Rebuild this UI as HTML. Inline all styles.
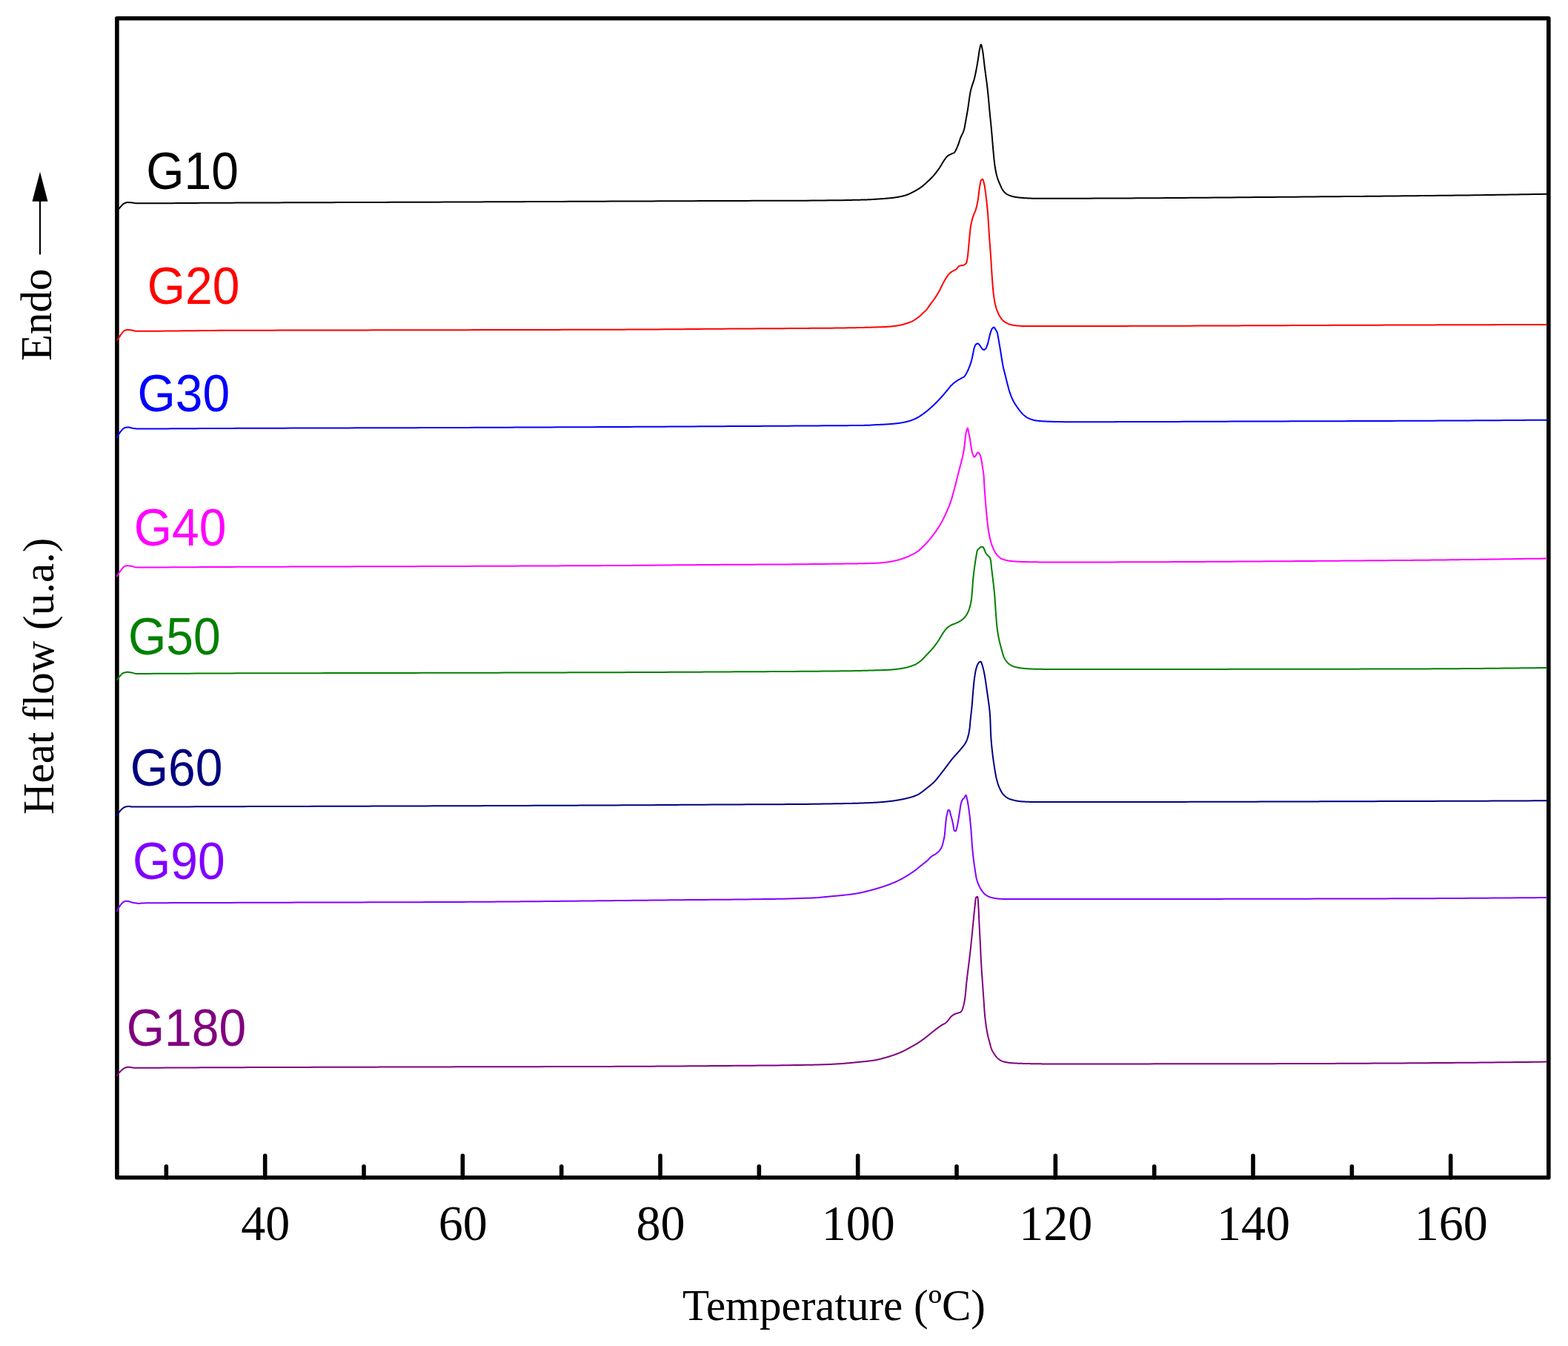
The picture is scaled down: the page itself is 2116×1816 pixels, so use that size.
<!DOCTYPE html><html><head><meta charset="utf-8"><title>DSC thermograms</title>
<style>html,body{margin:0;padding:0;background:#fff;overflow:hidden;width:2116px;height:1816px;}svg{display:block;}.serif{font-family:"Liberation Serif","Times New Roman",serif;}.sans{font-family:"Liberation Sans",Arial,sans-serif;}</style></head><body>
<svg width="2116" height="1816" viewBox="0 0 2116 1816">
<rect x="0" y="0" width="2116" height="1816" fill="#fff"/>
<rect x="157.90" y="24.80" width="1931.90" height="1564.00" fill="none" stroke="#000" stroke-width="5.60" stroke-linejoin="round"/>
<path d="M224.37 1588.80 V1573.80 M357.70 1588.80 V1559.20 M491.03 1588.80 V1573.80 M624.36 1588.80 V1559.20 M757.69 1588.80 V1573.80 M891.02 1588.80 V1559.20 M1024.35 1588.80 V1573.80 M1157.68 1588.80 V1559.20 M1291.01 1588.80 V1573.80 M1424.34 1588.80 V1559.20 M1557.67 1588.80 V1573.80 M1691.00 1588.80 V1559.20 M1824.33 1588.80 V1573.80 M1957.66 1588.80 V1559.20" stroke="#000" stroke-width="5.60" stroke-linecap="round" fill="none"/>
<path d="M158.00 284.50 L159.00 283.32 L160.00 282.15 L161.00 281.00 L162.00 279.82 L163.00 278.63 L164.00 277.50 L165.00 276.50 L166.00 275.59 L167.00 274.77 L168.00 274.20 L169.00 273.82 L170.00 273.49 L171.00 273.24 L172.00 273.11 L172.40 273.10 L173.00 273.11 L174.00 273.13 L175.00 273.19 L176.00 273.25 L177.00 273.32 L178.00 273.40 L179.00 273.51 L180.00 273.67 L181.00 273.85 L182.00 274.03 L183.00 274.18 L184.00 274.28 L184.70 274.30 L185.00 274.30 L186.00 274.30 L187.00 274.30 L188.00 274.30 L189.00 274.30 L190.00 274.30 L191.00 274.30 L192.00 274.30 L193.00 274.29 L194.00 274.29 L195.00 274.29 L196.00 274.29 L197.00 274.29 L198.00 274.28 L199.00 274.28 L200.00 274.28 L208.00 274.25 L216.00 274.22 L224.00 274.18 L232.00 274.13 L240.00 274.08 L248.00 274.03 L256.00 273.97 L264.00 273.91 L272.00 273.86 L280.00 273.81 L288.00 273.76 L296.00 273.72 L300.00 273.70 L304.00 273.68 L312.00 273.65 L320.00 273.61 L328.00 273.58 L336.00 273.55 L344.00 273.52 L352.00 273.49 L360.00 273.45 L368.00 273.42 L376.00 273.39 L384.00 273.37 L392.00 273.34 L400.00 273.31 L408.00 273.28 L416.00 273.25 L424.00 273.22 L432.00 273.20 L440.00 273.17 L448.00 273.14 L456.00 273.11 L464.00 273.09 L472.00 273.06 L480.00 273.03 L488.00 273.01 L496.00 272.98 L504.00 272.95 L512.00 272.92 L520.00 272.90 L528.00 272.87 L536.00 272.84 L544.00 272.81 L552.00 272.78 L560.00 272.75 L568.00 272.72 L576.00 272.69 L584.00 272.66 L592.00 272.63 L600.00 272.60 L608.00 272.57 L616.00 272.53 L624.00 272.50 L632.00 272.47 L640.00 272.43 L648.00 272.40 L656.00 272.36 L664.00 272.33 L672.00 272.29 L680.00 272.26 L688.00 272.22 L696.00 272.19 L704.00 272.15 L712.00 272.11 L720.00 272.08 L728.00 272.04 L736.00 272.00 L744.00 271.97 L752.00 271.93 L760.00 271.89 L768.00 271.86 L776.00 271.82 L784.00 271.78 L792.00 271.75 L800.00 271.71 L808.00 271.68 L816.00 271.64 L824.00 271.61 L832.00 271.58 L840.00 271.54 L848.00 271.51 L850.00 271.50 L856.00 271.48 L864.00 271.44 L872.00 271.41 L880.00 271.38 L888.00 271.34 L896.00 271.31 L904.00 271.28 L912.00 271.24 L920.00 271.21 L928.00 271.18 L936.00 271.14 L944.00 271.11 L952.00 271.08 L960.00 271.05 L968.00 271.02 L976.00 270.99 L984.00 270.97 L992.00 270.94 L1000.00 270.91 L1004.40 270.90 L1008.00 270.89 L1016.00 270.87 L1024.00 270.85 L1032.00 270.83 L1040.00 270.82 L1048.00 270.80 L1056.00 270.78 L1064.00 270.76 L1072.00 270.73 L1080.00 270.70 L1088.00 270.66 L1096.00 270.61 L1104.00 270.54 L1112.00 270.46 L1120.00 270.37 L1128.00 270.26 L1136.00 270.14 L1144.00 269.99 L1144.50 269.98 L1145.00 269.97 L1145.50 269.97 L1146.00 269.96 L1146.50 269.95 L1147.00 269.94 L1147.50 269.93 L1148.00 269.92 L1148.50 269.91 L1149.00 269.90 L1149.50 269.89 L1150.00 269.88 L1150.50 269.86 L1151.00 269.85 L1151.50 269.84 L1152.00 269.83 L1152.50 269.82 L1153.00 269.81 L1153.50 269.80 L1154.00 269.79 L1154.50 269.78 L1155.00 269.77 L1155.50 269.76 L1156.00 269.75 L1156.50 269.73 L1157.00 269.72 L1157.50 269.71 L1158.00 269.70 L1158.50 269.69 L1159.00 269.68 L1159.50 269.67 L1160.00 269.65 L1160.50 269.64 L1161.00 269.63 L1161.50 269.62 L1162.00 269.61 L1162.50 269.59 L1163.00 269.58 L1163.50 269.57 L1164.00 269.56 L1164.50 269.54 L1165.00 269.53 L1165.50 269.52 L1166.00 269.51 L1166.50 269.49 L1167.00 269.48 L1167.50 269.47 L1168.00 269.45 L1168.50 269.44 L1169.00 269.43 L1169.50 269.41 L1170.00 269.40 L1170.50 269.39 L1171.00 269.37 L1171.50 269.35 L1172.00 269.33 L1172.50 269.31 L1173.00 269.29 L1173.50 269.26 L1174.00 269.24 L1174.50 269.21 L1175.00 269.18 L1175.50 269.15 L1176.00 269.12 L1176.50 269.09 L1177.00 269.06 L1177.50 269.03 L1178.00 268.99 L1178.50 268.96 L1179.00 268.93 L1179.50 268.90 L1180.00 268.86 L1180.50 268.83 L1181.00 268.80 L1181.50 268.76 L1182.00 268.73 L1182.50 268.70 L1183.00 268.67 L1183.50 268.64 L1184.00 268.61 L1184.50 268.57 L1185.00 268.54 L1185.50 268.51 L1186.00 268.48 L1186.50 268.44 L1187.00 268.41 L1187.50 268.37 L1188.00 268.34 L1188.50 268.31 L1189.00 268.27 L1189.50 268.23 L1190.00 268.20 L1190.50 268.16 L1191.00 268.13 L1191.50 268.09 L1192.00 268.05 L1192.50 268.01 L1193.00 267.97 L1193.50 267.93 L1194.00 267.89 L1194.50 267.85 L1195.00 267.81 L1195.10 267.80 L1195.50 267.77 L1196.00 267.72 L1196.50 267.68 L1197.00 267.64 L1197.50 267.59 L1198.00 267.55 L1198.50 267.50 L1199.00 267.46 L1199.50 267.41 L1200.00 267.36 L1200.50 267.32 L1201.00 267.27 L1201.50 267.22 L1202.00 267.17 L1202.50 267.11 L1203.00 267.06 L1203.50 267.00 L1204.00 266.95 L1204.50 266.89 L1205.00 266.83 L1205.50 266.77 L1206.00 266.71 L1206.50 266.65 L1207.00 266.58 L1207.50 266.51 L1207.60 266.50 L1208.00 266.44 L1208.50 266.37 L1209.00 266.30 L1209.50 266.23 L1210.00 266.15 L1210.50 266.07 L1211.00 265.99 L1211.50 265.90 L1212.00 265.82 L1212.50 265.73 L1213.00 265.64 L1213.50 265.54 L1214.00 265.45 L1214.50 265.35 L1215.00 265.25 L1215.50 265.14 L1216.00 265.04 L1216.50 264.93 L1217.00 264.82 L1217.50 264.70 L1218.00 264.58 L1218.50 264.46 L1219.00 264.34 L1219.50 264.21 L1220.00 264.08 L1220.50 263.95 L1221.00 263.81 L1221.40 263.70 L1221.50 263.67 L1222.00 263.52 L1222.50 263.37 L1223.00 263.20 L1223.50 263.03 L1224.00 262.85 L1224.50 262.66 L1225.00 262.46 L1225.50 262.25 L1226.00 262.04 L1226.50 261.82 L1227.00 261.60 L1227.50 261.37 L1228.00 261.14 L1228.50 260.90 L1229.00 260.65 L1229.50 260.41 L1230.00 260.15 L1230.50 259.90 L1231.00 259.64 L1231.50 259.38 L1232.00 259.12 L1232.50 258.85 L1233.00 258.58 L1233.50 258.32 L1234.00 258.05 L1234.50 257.78 L1235.00 257.51 L1235.20 257.40 L1235.50 257.24 L1236.00 256.96 L1236.50 256.68 L1237.00 256.40 L1237.50 256.10 L1238.00 255.81 L1238.50 255.50 L1239.00 255.20 L1239.50 254.88 L1240.00 254.56 L1240.50 254.24 L1241.00 253.91 L1241.50 253.57 L1242.00 253.23 L1242.50 252.88 L1243.00 252.53 L1243.50 252.17 L1244.00 251.80 L1244.50 251.43 L1245.00 251.04 L1245.50 250.64 L1246.00 250.23 L1246.50 249.81 L1247.00 249.39 L1247.50 248.95 L1248.00 248.51 L1248.50 248.06 L1249.00 247.61 L1249.50 247.15 L1250.00 246.69 L1250.50 246.23 L1251.00 245.76 L1251.50 245.29 L1251.60 245.20 L1252.00 244.83 L1252.50 244.36 L1253.00 243.89 L1253.50 243.41 L1254.00 242.94 L1254.50 242.46 L1255.00 241.97 L1255.50 241.48 L1256.00 240.98 L1256.50 240.48 L1257.00 239.97 L1257.50 239.45 L1258.00 238.93 L1258.50 238.40 L1259.00 237.86 L1259.50 237.30 L1260.00 236.74 L1260.30 236.40 L1260.50 236.17 L1261.00 235.58 L1261.50 234.99 L1262.00 234.38 L1262.50 233.76 L1263.00 233.13 L1263.50 232.48 L1264.00 231.83 L1264.50 231.17 L1265.00 230.49 L1265.50 229.81 L1266.00 229.12 L1266.50 228.41 L1267.00 227.70 L1267.50 226.98 L1267.90 226.40 L1268.00 226.25 L1268.50 225.49 L1269.00 224.69 L1269.50 223.87 L1270.00 223.02 L1270.50 222.16 L1271.00 221.29 L1271.50 220.43 L1272.00 219.58 L1272.50 218.74 L1273.00 217.94 L1273.50 217.17 L1274.00 216.44 L1274.10 216.30 L1274.50 215.74 L1275.00 215.04 L1275.50 214.33 L1276.00 213.64 L1276.50 212.96 L1277.00 212.32 L1277.50 211.72 L1278.00 211.17 L1278.50 210.67 L1279.00 210.25 L1279.20 210.10 L1279.50 209.90 L1280.00 209.58 L1280.50 209.30 L1281.00 209.05 L1281.50 208.81 L1282.00 208.59 L1282.50 208.38 L1283.00 208.16 L1283.50 207.94 L1284.00 207.70 L1284.20 207.60 L1284.50 207.45 L1285.00 207.23 L1285.50 207.02 L1286.00 206.81 L1286.50 206.58 L1287.00 206.32 L1287.50 206.00 L1287.90 205.70 L1288.00 205.61 L1288.50 205.03 L1289.00 204.24 L1289.50 203.31 L1290.00 202.31 L1290.50 201.30 L1291.00 200.26 L1291.50 199.14 L1292.00 197.95 L1292.50 196.70 L1293.00 195.40 L1293.50 194.07 L1293.60 193.80 L1294.00 192.67 L1294.50 191.14 L1295.00 189.57 L1295.50 188.02 L1296.00 186.60 L1296.50 185.34 L1297.00 184.21 L1297.50 183.16 L1298.00 182.16 L1298.50 181.17 L1299.00 180.14 L1299.50 179.03 L1300.00 177.79 L1300.50 176.40 L1301.00 174.80 L1301.50 172.72 L1302.00 170.10 L1302.50 167.21 L1303.00 164.35 L1303.10 163.80 L1303.50 161.64 L1304.00 158.94 L1304.50 156.21 L1305.00 153.43 L1305.50 150.57 L1306.00 147.61 L1306.10 147.00 L1306.50 144.42 L1307.00 140.91 L1307.50 137.22 L1308.00 133.53 L1308.50 130.02 L1309.00 126.85 L1309.50 124.20 L1310.00 122.00 L1310.50 120.03 L1311.00 118.24 L1311.50 116.61 L1312.00 115.07 L1312.50 113.60 L1313.00 112.14 L1313.50 110.66 L1314.00 109.10 L1314.50 107.43 L1315.00 105.60 L1315.40 104.00 L1315.50 103.58 L1316.00 101.36 L1316.50 98.99 L1317.00 96.48 L1317.50 93.85 L1318.00 91.13 L1318.50 88.33 L1319.00 85.47 L1319.50 82.58 L1319.60 82.00 L1320.00 79.50 L1320.50 76.05 L1321.00 72.52 L1321.50 69.22 L1322.00 66.46 L1322.10 66.00 L1322.50 64.14 L1323.00 61.91 L1323.50 60.39 L1323.80 60.10 L1324.00 60.21 L1324.50 61.31 L1325.00 63.28 L1325.50 65.70 L1325.90 67.70 L1326.00 68.21 L1326.50 71.29 L1327.00 75.08 L1327.50 79.32 L1328.00 83.74 L1328.50 88.06 L1328.80 90.50 L1329.00 92.06 L1329.50 95.86 L1330.00 99.58 L1330.50 103.27 L1331.00 106.99 L1331.50 110.80 L1332.00 114.74 L1332.50 118.89 L1333.00 123.29 L1333.10 124.20 L1333.50 128.09 L1334.00 133.41 L1334.50 139.01 L1335.00 144.67 L1335.50 150.15 L1335.60 151.20 L1336.00 155.30 L1336.50 160.27 L1337.00 165.19 L1337.50 170.19 L1338.00 175.42 L1338.10 176.50 L1338.50 181.04 L1339.00 187.03 L1339.50 193.09 L1340.00 198.90 L1340.10 200.00 L1340.50 204.43 L1341.00 209.96 L1341.50 215.14 L1342.00 219.62 L1342.10 220.40 L1342.50 223.30 L1343.00 226.56 L1343.50 229.47 L1344.00 232.05 L1344.20 233.00 L1344.50 234.35 L1345.00 236.42 L1345.50 238.29 L1346.00 239.97 L1346.20 240.60 L1346.50 241.50 L1347.00 242.91 L1347.50 244.22 L1348.00 245.44 L1348.50 246.62 L1349.00 247.75 L1349.20 248.20 L1349.50 248.88 L1350.00 250.01 L1350.50 251.15 L1351.00 252.26 L1351.50 253.34 L1352.00 254.36 L1352.50 255.31 L1353.00 256.16 L1353.50 256.91 L1353.80 257.30 L1354.00 257.54 L1354.50 258.13 L1355.00 258.68 L1355.50 259.22 L1356.00 259.72 L1356.50 260.19 L1357.00 260.64 L1357.50 261.06 L1358.00 261.45 L1358.50 261.81 L1359.00 262.14 L1359.50 262.44 L1360.00 262.71 L1360.40 262.90 L1360.50 262.95 L1361.00 263.17 L1361.50 263.38 L1362.00 263.58 L1362.50 263.78 L1363.00 263.97 L1363.50 264.15 L1364.00 264.32 L1364.50 264.49 L1365.00 264.64 L1365.50 264.79 L1366.00 264.93 L1366.50 265.07 L1367.00 265.20 L1367.50 265.32 L1368.00 265.43 L1368.50 265.54 L1369.00 265.64 L1369.50 265.73 L1370.00 265.82 L1370.50 265.90 L1371.00 265.98 L1371.50 266.05 L1372.00 266.12 L1372.50 266.19 L1373.00 266.26 L1373.50 266.33 L1374.00 266.39 L1374.50 266.45 L1375.00 266.51 L1375.50 266.57 L1376.00 266.62 L1376.50 266.67 L1377.00 266.73 L1377.50 266.77 L1378.00 266.82 L1378.50 266.87 L1379.00 266.91 L1379.50 266.95 L1380.00 266.99 L1380.50 267.03 L1381.00 267.07 L1381.50 267.10 L1382.00 267.13 L1382.50 267.16 L1383.00 267.19 L1383.10 267.20 L1383.50 267.22 L1384.00 267.25 L1384.50 267.28 L1385.00 267.31 L1385.50 267.34 L1386.00 267.36 L1386.50 267.39 L1387.00 267.42 L1387.50 267.45 L1388.00 267.47 L1388.50 267.50 L1389.00 267.52 L1389.50 267.54 L1390.00 267.56 L1390.50 267.58 L1391.00 267.60 L1391.50 267.62 L1392.00 267.64 L1392.50 267.65 L1393.00 267.67 L1393.50 267.68 L1394.00 267.69 L1394.50 267.69 L1395.00 267.70 L1395.50 267.70 L1395.80 267.70 L1396.00 267.70 L1396.50 267.70 L1397.00 267.70 L1397.50 267.70 L1398.00 267.70 L1398.50 267.70 L1399.00 267.70 L1399.50 267.70 L1400.00 267.70 L1400.50 267.70 L1401.00 267.70 L1401.50 267.70 L1402.00 267.70 L1402.50 267.70 L1403.00 267.70 L1403.50 267.70 L1404.00 267.70 L1404.50 267.70 L1405.00 267.70 L1405.50 267.70 L1406.00 267.70 L1406.50 267.70 L1407.00 267.70 L1407.50 267.70 L1408.00 267.70 L1408.50 267.70 L1409.00 267.70 L1409.50 267.70 L1410.00 267.70 L1410.50 267.70 L1411.00 267.70 L1411.50 267.70 L1412.00 267.70 L1412.50 267.70 L1413.00 267.70 L1413.50 267.70 L1414.00 267.70 L1414.50 267.70 L1415.00 267.70 L1415.50 267.70 L1416.00 267.70 L1416.50 267.70 L1417.00 267.70 L1417.50 267.70 L1418.00 267.70 L1418.50 267.70 L1419.00 267.70 L1419.50 267.70 L1420.00 267.70 L1420.50 267.70 L1421.00 267.70 L1421.50 267.70 L1422.00 267.70 L1422.50 267.70 L1423.00 267.70 L1423.50 267.70 L1424.00 267.70 L1424.50 267.70 L1425.00 267.70 L1425.50 267.70 L1426.00 267.70 L1426.50 267.70 L1427.00 267.70 L1427.50 267.70 L1428.00 267.70 L1428.50 267.70 L1429.00 267.70 L1429.50 267.70 L1430.00 267.70 L1438.00 267.69 L1446.00 267.68 L1454.00 267.67 L1462.00 267.65 L1470.00 267.63 L1478.00 267.60 L1486.00 267.58 L1494.00 267.55 L1502.00 267.51 L1510.00 267.48 L1518.00 267.44 L1526.00 267.40 L1534.00 267.35 L1542.00 267.31 L1550.00 267.26 L1558.00 267.21 L1566.00 267.16 L1574.00 267.10 L1582.00 267.05 L1590.00 266.99 L1598.00 266.93 L1606.00 266.87 L1614.00 266.80 L1622.00 266.74 L1630.00 266.68 L1638.00 266.61 L1646.00 266.54 L1654.00 266.47 L1662.00 266.41 L1670.00 266.34 L1678.00 266.27 L1686.00 266.19 L1694.00 266.12 L1702.00 266.05 L1710.00 265.98 L1718.00 265.91 L1726.00 265.84 L1734.00 265.77 L1742.00 265.70 L1750.00 265.63 L1758.00 265.56 L1766.00 265.49 L1774.00 265.42 L1782.00 265.35 L1790.00 265.28 L1798.00 265.22 L1800.00 265.20 L1806.00 265.15 L1814.00 265.08 L1822.00 265.02 L1830.00 264.95 L1838.00 264.88 L1846.00 264.81 L1854.00 264.73 L1862.00 264.66 L1870.00 264.59 L1878.00 264.51 L1886.00 264.43 L1894.00 264.35 L1902.00 264.27 L1910.00 264.19 L1918.00 264.10 L1926.00 264.02 L1934.00 263.93 L1942.00 263.84 L1950.00 263.75 L1958.00 263.66 L1966.00 263.57 L1974.00 263.47 L1980.00 263.40 L1982.00 263.38 L1990.00 263.27 L1998.00 263.17 L2006.00 263.06 L2014.00 262.95 L2022.00 262.83 L2030.00 262.71 L2038.00 262.59 L2046.00 262.47 L2054.00 262.34 L2062.00 262.21 L2070.00 262.08 L2078.00 261.95 L2086.00 261.82 L2087.00 261.80" fill="none" stroke="#000000" stroke-width="2.00" stroke-linejoin="round" stroke-linecap="round"/>
<path d="M158.10 458.60 L159.10 457.43 L160.00 456.30 L160.10 456.17 L161.10 454.71 L162.10 453.12 L163.10 451.53 L164.10 450.06 L164.70 449.30 L165.10 448.82 L166.10 447.65 L167.10 446.66 L167.80 446.20 L168.10 446.06 L169.10 445.60 L170.10 445.23 L171.10 444.98 L172.00 444.90 L172.10 444.90 L173.10 444.94 L174.10 445.03 L175.10 445.15 L176.10 445.28 L177.00 445.40 L177.10 445.41 L178.10 445.58 L179.10 445.80 L180.10 446.04 L181.10 446.28 L182.10 446.50 L183.10 446.68 L184.10 446.78 L184.70 446.80 L185.10 446.80 L186.10 446.80 L187.10 446.80 L188.10 446.80 L189.10 446.80 L190.10 446.80 L191.10 446.79 L192.10 446.79 L193.10 446.79 L194.10 446.79 L195.10 446.78 L196.10 446.78 L197.10 446.78 L198.10 446.77 L199.10 446.77 L200.10 446.76 L208.10 446.72 L216.10 446.66 L224.10 446.60 L232.10 446.52 L240.10 446.44 L248.10 446.35 L256.10 446.26 L264.10 446.17 L272.10 446.08 L280.10 446.01 L288.10 445.93 L296.10 445.87 L304.10 445.83 L310.00 445.80 L312.10 445.79 L320.10 445.77 L328.10 445.74 L336.10 445.71 L344.10 445.69 L352.10 445.67 L360.10 445.65 L368.10 445.63 L376.10 445.61 L384.10 445.59 L392.10 445.57 L400.10 445.55 L408.10 445.54 L416.10 445.52 L424.10 445.51 L432.10 445.49 L440.10 445.48 L448.10 445.46 L456.10 445.45 L464.10 445.44 L472.10 445.42 L480.10 445.41 L488.10 445.40 L496.10 445.39 L504.10 445.37 L512.10 445.36 L520.10 445.35 L528.10 445.34 L536.10 445.32 L544.10 445.31 L552.10 445.29 L560.10 445.28 L568.10 445.27 L576.10 445.25 L584.10 445.23 L592.10 445.22 L600.00 445.20 L600.10 445.20 L608.10 445.18 L616.10 445.17 L624.10 445.15 L632.10 445.13 L640.10 445.12 L648.10 445.10 L656.10 445.09 L664.10 445.07 L672.10 445.05 L680.10 445.04 L688.10 445.02 L696.10 445.01 L704.10 444.99 L712.10 444.98 L720.10 444.96 L728.10 444.94 L736.10 444.93 L744.10 444.91 L752.10 444.89 L760.10 444.87 L768.10 444.85 L776.10 444.83 L784.10 444.81 L792.10 444.79 L800.10 444.77 L808.10 444.74 L816.10 444.72 L824.10 444.69 L832.10 444.67 L840.10 444.64 L848.10 444.61 L850.00 444.60 L856.10 444.57 L864.10 444.54 L872.10 444.49 L880.10 444.44 L888.10 444.38 L896.10 444.32 L904.10 444.26 L912.10 444.20 L920.10 444.13 L928.10 444.06 L936.10 443.99 L944.10 443.92 L952.10 443.85 L960.10 443.79 L968.10 443.72 L976.10 443.66 L984.10 443.61 L985.00 443.60 L992.10 443.55 L1000.10 443.50 L1008.10 443.45 L1016.10 443.41 L1024.10 443.36 L1032.10 443.32 L1040.10 443.27 L1048.10 443.22 L1056.10 443.17 L1064.10 443.12 L1072.10 443.06 L1080.00 443.00 L1080.10 443.00 L1088.10 442.94 L1096.10 442.87 L1104.10 442.80 L1112.10 442.72 L1120.10 442.64 L1128.10 442.55 L1136.10 442.45 L1140.00 442.40 L1144.10 442.34 L1144.60 442.33 L1145.10 442.32 L1145.60 442.32 L1146.10 442.31 L1146.60 442.30 L1147.10 442.29 L1147.60 442.28 L1148.10 442.27 L1148.60 442.26 L1149.10 442.26 L1149.60 442.25 L1150.10 442.24 L1150.60 442.23 L1151.10 442.22 L1151.60 442.21 L1152.10 442.20 L1152.60 442.19 L1153.10 442.18 L1153.60 442.17 L1154.10 442.16 L1154.60 442.15 L1155.10 442.14 L1155.60 442.13 L1156.10 442.12 L1156.60 442.11 L1157.10 442.10 L1157.60 442.09 L1158.10 442.08 L1158.60 442.07 L1159.10 442.06 L1159.60 442.05 L1160.10 442.04 L1160.60 442.02 L1161.10 442.01 L1161.60 442.00 L1162.10 441.99 L1162.60 441.98 L1163.10 441.97 L1163.60 441.96 L1164.10 441.94 L1164.60 441.93 L1165.10 441.92 L1165.60 441.91 L1166.10 441.90 L1166.60 441.88 L1167.10 441.87 L1167.60 441.86 L1168.10 441.85 L1168.60 441.84 L1169.10 441.82 L1169.60 441.81 L1170.00 441.80 L1170.10 441.80 L1170.60 441.78 L1171.10 441.77 L1171.60 441.76 L1172.10 441.74 L1172.60 441.73 L1173.10 441.71 L1173.60 441.70 L1174.10 441.68 L1174.60 441.66 L1175.10 441.65 L1175.60 441.63 L1176.10 441.61 L1176.60 441.60 L1177.10 441.58 L1177.60 441.56 L1178.10 441.54 L1178.60 441.53 L1179.10 441.51 L1179.60 441.49 L1180.10 441.47 L1180.60 441.45 L1181.10 441.44 L1181.60 441.42 L1182.10 441.40 L1182.60 441.38 L1183.10 441.36 L1183.60 441.35 L1184.10 441.33 L1184.60 441.31 L1185.10 441.29 L1185.60 441.28 L1186.10 441.26 L1186.60 441.24 L1187.10 441.23 L1187.60 441.21 L1188.00 441.20 L1188.10 441.20 L1188.60 441.18 L1189.10 441.17 L1189.60 441.16 L1190.10 441.14 L1190.60 441.13 L1191.10 441.12 L1191.60 441.11 L1192.10 441.09 L1192.60 441.08 L1193.10 441.07 L1193.60 441.05 L1194.10 441.03 L1194.60 441.02 L1195.00 441.00 L1195.10 441.00 L1195.60 440.97 L1196.10 440.95 L1196.60 440.92 L1197.10 440.89 L1197.60 440.85 L1198.10 440.81 L1198.60 440.78 L1199.10 440.74 L1199.60 440.69 L1200.10 440.65 L1200.60 440.61 L1201.10 440.56 L1201.60 440.52 L1201.80 440.50 L1202.10 440.47 L1202.60 440.43 L1203.10 440.38 L1203.60 440.33 L1204.10 440.28 L1204.60 440.22 L1205.10 440.17 L1205.60 440.11 L1206.10 440.05 L1206.60 439.99 L1207.10 439.93 L1207.60 439.86 L1208.10 439.80 L1208.60 439.73 L1209.10 439.66 L1209.60 439.59 L1210.10 439.51 L1210.20 439.50 L1210.60 439.44 L1211.10 439.36 L1211.60 439.28 L1212.10 439.19 L1212.60 439.10 L1213.10 439.01 L1213.60 438.91 L1214.10 438.81 L1214.60 438.71 L1215.10 438.61 L1215.60 438.50 L1216.10 438.39 L1216.60 438.27 L1217.10 438.16 L1217.60 438.04 L1218.10 437.92 L1218.60 437.80 L1219.10 437.67 L1219.60 437.54 L1220.10 437.40 L1220.60 437.26 L1221.10 437.11 L1221.60 436.96 L1222.10 436.80 L1222.60 436.64 L1223.10 436.48 L1223.60 436.32 L1224.10 436.15 L1224.60 435.98 L1225.10 435.80 L1225.40 435.70 L1225.60 435.63 L1226.10 435.46 L1226.60 435.28 L1227.10 435.10 L1227.60 434.91 L1228.10 434.72 L1228.60 434.53 L1229.10 434.32 L1229.60 434.11 L1230.10 433.89 L1230.50 433.70 L1230.60 433.65 L1231.10 433.40 L1231.60 433.13 L1232.10 432.85 L1232.60 432.56 L1233.10 432.25 L1233.60 431.94 L1234.10 431.62 L1234.60 431.29 L1235.10 430.96 L1235.50 430.70 L1235.60 430.63 L1236.10 430.30 L1236.60 429.97 L1237.10 429.62 L1237.60 429.27 L1238.10 428.92 L1238.60 428.55 L1239.10 428.18 L1239.60 427.80 L1240.10 427.40 L1240.60 427.00 L1241.10 426.58 L1241.60 426.14 L1242.10 425.68 L1242.60 425.20 L1243.10 424.72 L1243.60 424.23 L1244.10 423.74 L1244.60 423.25 L1245.10 422.77 L1245.60 422.29 L1245.70 422.20 L1246.10 421.83 L1246.60 421.39 L1247.10 420.95 L1247.60 420.51 L1248.10 420.06 L1248.60 419.60 L1249.10 419.12 L1249.60 418.61 L1249.70 418.50 L1250.10 418.05 L1250.60 417.46 L1251.10 416.83 L1251.60 416.17 L1252.10 415.51 L1252.40 415.10 L1252.60 414.83 L1253.10 414.11 L1253.60 413.37 L1254.10 412.61 L1254.60 411.85 L1255.10 411.10 L1255.60 410.38 L1255.80 410.10 L1256.10 409.70 L1256.60 409.05 L1257.10 408.43 L1257.60 407.81 L1258.10 407.20 L1258.60 406.57 L1259.10 405.91 L1259.40 405.50 L1259.60 405.22 L1260.10 404.51 L1260.60 403.79 L1261.10 403.06 L1261.60 402.32 L1262.10 401.57 L1262.60 400.80 L1263.10 400.03 L1263.60 399.24 L1264.10 398.44 L1264.60 397.62 L1265.10 396.80 L1265.60 395.96 L1266.10 395.11 L1266.60 394.25 L1267.10 393.38 L1267.20 393.20 L1267.60 392.48 L1268.10 391.54 L1268.60 390.55 L1269.10 389.55 L1269.60 388.52 L1270.10 387.47 L1270.60 386.43 L1271.10 385.38 L1271.60 384.35 L1272.10 383.34 L1272.60 382.36 L1273.10 381.42 L1273.50 380.70 L1273.60 380.52 L1274.10 379.64 L1274.60 378.75 L1275.10 377.87 L1275.60 377.00 L1276.10 376.15 L1276.60 375.31 L1277.10 374.49 L1277.60 373.71 L1278.10 372.95 L1278.60 372.24 L1279.10 371.56 L1279.60 370.94 L1279.80 370.70 L1280.10 370.36 L1280.60 369.81 L1281.10 369.28 L1281.60 368.79 L1282.10 368.33 L1282.60 367.89 L1283.10 367.50 L1283.50 367.20 L1283.60 367.13 L1284.10 366.80 L1284.60 366.49 L1285.10 366.21 L1285.60 365.94 L1286.10 365.68 L1286.60 365.41 L1287.00 365.20 L1287.10 365.15 L1287.60 364.90 L1288.10 364.66 L1288.60 364.43 L1289.10 364.19 L1289.60 363.92 L1290.10 363.60 L1290.60 363.17 L1291.10 362.61 L1291.60 361.96 L1292.10 361.28 L1292.60 360.60 L1293.10 359.98 L1293.60 359.46 L1294.10 359.09 L1294.30 359.00 L1294.60 358.89 L1295.10 358.74 L1295.60 358.62 L1296.10 358.52 L1296.60 358.43 L1297.10 358.35 L1297.60 358.28 L1298.10 358.20 L1298.60 358.12 L1299.10 358.01 L1299.60 357.89 L1300.10 357.73 L1300.20 357.70 L1300.60 357.55 L1301.10 357.34 L1301.60 357.08 L1302.10 356.76 L1302.60 356.38 L1303.10 355.90 L1303.60 355.34 L1304.00 354.80 L1304.10 354.63 L1304.60 353.12 L1305.10 350.73 L1305.60 347.82 L1305.70 347.20 L1306.10 344.04 L1306.60 338.83 L1307.10 333.26 L1307.30 331.20 L1307.60 328.14 L1308.10 322.74 L1308.60 317.32 L1309.10 312.26 L1309.60 307.96 L1309.90 305.90 L1310.10 304.72 L1310.60 302.01 L1311.10 299.63 L1311.60 297.52 L1312.10 295.62 L1312.60 293.87 L1312.80 293.20 L1313.10 292.25 L1313.60 290.84 L1314.10 289.60 L1314.60 288.45 L1315.10 287.34 L1315.60 286.20 L1316.10 284.96 L1316.60 283.57 L1317.00 282.30 L1317.10 281.96 L1317.60 280.11 L1318.10 278.03 L1318.60 275.73 L1319.10 273.22 L1319.60 270.50 L1320.10 267.23 L1320.60 263.33 L1321.10 259.20 L1321.60 255.26 L1322.10 251.90 L1322.60 248.83 L1323.10 245.95 L1323.60 243.92 L1323.80 243.50 L1324.10 243.09 L1324.60 242.51 L1325.10 242.08 L1325.60 241.84 L1325.90 241.80 L1326.10 241.88 L1326.60 242.65 L1327.10 244.10 L1327.60 245.99 L1328.10 248.11 L1328.40 249.40 L1328.60 250.32 L1329.10 253.13 L1329.60 256.56 L1330.10 260.42 L1330.60 264.54 L1331.00 267.90 L1331.10 268.74 L1331.60 273.13 L1332.10 277.89 L1332.60 283.14 L1333.10 289.00 L1333.60 296.24 L1334.10 304.62 L1334.60 312.81 L1334.70 314.30 L1335.10 319.91 L1335.60 326.50 L1336.10 332.94 L1336.60 339.58 L1336.90 343.80 L1337.10 346.78 L1337.60 354.72 L1338.10 362.93 L1338.60 370.83 L1338.90 375.20 L1339.10 377.97 L1339.60 384.64 L1340.10 390.40 L1340.60 395.24 L1341.10 399.48 L1341.60 403.00 L1342.10 405.91 L1342.60 408.46 L1343.10 410.71 L1343.60 412.72 L1343.70 413.10 L1344.10 414.55 L1344.60 416.23 L1345.10 417.78 L1345.60 419.18 L1346.10 420.46 L1346.20 420.70 L1346.60 421.63 L1347.10 422.75 L1347.60 423.80 L1348.10 424.80 L1348.60 425.73 L1349.10 426.60 L1349.60 427.41 L1350.10 428.16 L1350.20 428.30 L1350.60 428.86 L1351.10 429.53 L1351.60 430.17 L1352.10 430.79 L1352.60 431.38 L1353.10 431.93 L1353.60 432.45 L1354.10 432.93 L1354.60 433.36 L1355.10 433.76 L1355.30 433.90 L1355.60 434.11 L1356.10 434.45 L1356.60 434.78 L1357.10 435.09 L1357.60 435.39 L1358.10 435.68 L1358.60 435.95 L1359.10 436.21 L1359.60 436.46 L1360.10 436.69 L1360.60 436.91 L1361.10 437.11 L1361.60 437.29 L1362.10 437.46 L1362.60 437.62 L1362.90 437.70 L1363.10 437.75 L1363.60 437.88 L1364.10 438.01 L1364.60 438.13 L1365.10 438.25 L1365.60 438.37 L1366.10 438.48 L1366.60 438.58 L1367.10 438.68 L1367.60 438.78 L1368.10 438.87 L1368.60 438.95 L1369.10 439.04 L1369.60 439.11 L1370.10 439.19 L1370.60 439.25 L1371.10 439.31 L1371.60 439.37 L1372.10 439.42 L1372.60 439.47 L1373.00 439.50 L1373.10 439.51 L1373.60 439.55 L1374.10 439.58 L1374.60 439.62 L1375.10 439.66 L1375.60 439.69 L1376.10 439.73 L1376.60 439.76 L1377.10 439.79 L1377.60 439.82 L1378.10 439.85 L1378.60 439.88 L1379.10 439.90 L1379.60 439.92 L1380.10 439.94 L1380.60 439.96 L1381.10 439.97 L1381.60 439.98 L1382.10 439.99 L1382.60 440.00 L1383.10 440.00 L1383.60 440.00 L1384.10 440.00 L1384.60 440.00 L1385.10 440.00 L1385.60 440.00 L1386.10 440.00 L1386.60 440.00 L1387.10 440.00 L1387.60 440.00 L1388.10 440.00 L1388.60 440.00 L1389.10 440.00 L1389.60 440.00 L1390.10 440.00 L1390.60 440.00 L1391.10 440.00 L1391.60 440.00 L1392.10 440.00 L1392.60 440.00 L1393.10 440.00 L1393.60 440.00 L1394.10 440.00 L1394.60 440.00 L1395.10 440.00 L1395.60 440.00 L1396.10 440.00 L1396.60 440.00 L1397.10 440.00 L1397.60 440.00 L1398.10 440.00 L1398.60 440.00 L1399.10 440.00 L1399.60 440.00 L1400.10 440.00 L1400.60 440.00 L1401.10 440.00 L1401.60 440.00 L1402.10 440.00 L1402.60 440.00 L1403.10 440.00 L1403.60 440.00 L1404.10 440.00 L1404.60 440.00 L1405.10 440.00 L1405.60 440.00 L1406.10 440.00 L1406.60 440.00 L1407.10 440.00 L1407.60 440.00 L1408.10 440.00 L1408.60 440.00 L1409.10 440.00 L1409.60 440.00 L1410.10 440.00 L1410.60 440.00 L1411.10 440.00 L1411.60 440.00 L1412.10 440.00 L1412.60 440.00 L1413.10 440.00 L1413.60 440.00 L1414.10 440.00 L1414.60 440.00 L1415.10 440.00 L1415.60 440.00 L1416.10 440.00 L1416.60 440.00 L1417.10 440.00 L1417.60 440.00 L1418.10 440.00 L1418.60 440.00 L1419.10 440.00 L1419.60 440.00 L1420.00 440.00 L1420.10 440.00 L1420.60 440.00 L1421.10 440.00 L1421.60 440.00 L1422.10 440.00 L1422.60 440.00 L1423.10 440.00 L1423.60 440.00 L1424.10 440.00 L1424.60 440.00 L1425.10 440.00 L1425.60 440.00 L1426.10 440.00 L1426.60 440.00 L1427.10 440.00 L1427.60 440.00 L1428.10 440.00 L1428.60 440.00 L1429.10 440.00 L1429.60 440.00 L1430.10 440.00 L1438.10 440.00 L1446.10 439.99 L1454.10 439.99 L1462.10 439.98 L1470.10 439.97 L1478.10 439.96 L1486.10 439.95 L1494.10 439.93 L1502.10 439.92 L1510.10 439.90 L1518.10 439.89 L1526.10 439.87 L1534.10 439.85 L1542.10 439.83 L1550.10 439.81 L1558.10 439.79 L1566.10 439.77 L1574.10 439.74 L1582.10 439.72 L1590.10 439.69 L1598.10 439.67 L1606.10 439.64 L1614.10 439.61 L1622.10 439.58 L1630.10 439.55 L1638.10 439.52 L1646.10 439.49 L1654.10 439.46 L1662.10 439.43 L1670.10 439.40 L1678.10 439.37 L1686.10 439.34 L1694.10 439.30 L1702.10 439.27 L1710.10 439.24 L1718.10 439.21 L1726.10 439.17 L1734.10 439.14 L1742.10 439.11 L1750.10 439.07 L1758.10 439.04 L1766.10 439.01 L1774.10 438.97 L1782.10 438.94 L1790.10 438.91 L1798.10 438.87 L1806.10 438.84 L1814.10 438.81 L1822.10 438.78 L1830.10 438.75 L1838.10 438.72 L1846.10 438.69 L1854.10 438.66 L1862.10 438.63 L1870.10 438.60 L1878.10 438.57 L1886.10 438.55 L1894.10 438.52 L1900.00 438.50 L1902.10 438.49 L1910.10 438.47 L1918.10 438.44 L1926.10 438.42 L1934.10 438.39 L1942.10 438.37 L1950.10 438.34 L1958.10 438.31 L1966.10 438.29 L1974.10 438.26 L1982.10 438.24 L1990.10 438.21 L1998.10 438.19 L2006.10 438.16 L2014.10 438.14 L2022.10 438.11 L2030.10 438.08 L2038.10 438.06 L2046.10 438.03 L2054.10 438.01 L2062.10 437.98 L2070.10 437.95 L2078.10 437.93 L2086.10 437.90 L2087.00 437.90" fill="none" stroke="#ff0000" stroke-width="2.00" stroke-linejoin="round" stroke-linecap="round"/>
<path d="M158.10 590.10 L159.10 588.13 L160.10 586.29 L161.10 584.61 L162.10 583.09 L163.10 581.75 L163.90 580.80 L164.10 580.58 L165.10 579.49 L166.10 578.52 L167.10 577.75 L167.80 577.40 L168.10 577.29 L169.10 576.94 L170.10 576.65 L171.10 576.46 L172.00 576.40 L172.10 576.40 L173.10 576.46 L174.10 576.60 L175.10 576.81 L176.10 577.05 L177.10 577.32 L178.10 577.58 L179.10 577.81 L180.10 578.00 L180.90 578.10 L181.10 578.12 L182.10 578.21 L183.10 578.30 L184.10 578.38 L185.10 578.45 L186.10 578.49 L187.00 578.50 L187.10 578.50 L188.10 578.50 L189.10 578.50 L190.10 578.50 L191.10 578.50 L192.10 578.50 L193.10 578.50 L194.10 578.50 L195.10 578.49 L196.10 578.49 L197.10 578.49 L198.10 578.49 L199.10 578.49 L200.10 578.49 L208.10 578.46 L216.10 578.44 L224.10 578.40 L232.10 578.36 L240.10 578.31 L248.10 578.26 L256.10 578.21 L264.10 578.16 L272.10 578.11 L280.10 578.06 L288.10 578.01 L296.10 577.96 L304.10 577.92 L310.00 577.90 L312.10 577.89 L320.10 577.86 L328.10 577.83 L336.10 577.80 L344.10 577.77 L352.10 577.75 L360.10 577.72 L368.10 577.69 L376.10 577.67 L384.10 577.64 L392.10 577.62 L400.10 577.60 L408.10 577.57 L416.10 577.55 L424.10 577.53 L432.10 577.50 L440.10 577.48 L448.10 577.46 L456.10 577.44 L464.10 577.42 L472.10 577.39 L480.10 577.37 L488.10 577.35 L496.10 577.33 L504.10 577.30 L512.10 577.28 L520.10 577.26 L528.10 577.23 L536.10 577.21 L544.10 577.19 L552.10 577.16 L560.10 577.14 L568.10 577.11 L576.10 577.08 L584.10 577.06 L592.10 577.03 L600.00 577.00 L600.10 577.00 L608.10 576.97 L616.10 576.94 L624.10 576.91 L632.10 576.88 L640.10 576.85 L648.10 576.82 L656.10 576.78 L664.10 576.75 L672.10 576.72 L680.10 576.69 L688.10 576.65 L696.10 576.62 L704.10 576.59 L712.10 576.55 L720.10 576.52 L728.10 576.48 L736.10 576.44 L744.10 576.41 L752.10 576.37 L760.10 576.34 L768.10 576.30 L776.10 576.26 L784.10 576.22 L792.10 576.19 L800.10 576.15 L808.10 576.11 L816.10 576.07 L824.10 576.03 L832.10 575.99 L840.10 575.95 L848.10 575.91 L850.00 575.90 L856.10 575.87 L864.10 575.83 L872.10 575.78 L880.10 575.74 L888.10 575.70 L896.10 575.65 L904.10 575.60 L912.10 575.56 L920.10 575.51 L928.10 575.46 L936.10 575.41 L944.10 575.36 L952.10 575.32 L960.10 575.27 L968.10 575.22 L976.10 575.17 L984.10 575.12 L992.10 575.07 L1000.10 575.03 L1004.40 575.00 L1008.10 574.98 L1016.10 574.93 L1024.10 574.89 L1032.10 574.84 L1040.10 574.80 L1048.10 574.76 L1056.10 574.71 L1064.10 574.67 L1072.10 574.62 L1080.10 574.57 L1088.10 574.52 L1096.10 574.47 L1104.10 574.42 L1112.10 574.36 L1120.10 574.30 L1120.30 574.30 L1128.10 574.24 L1136.10 574.19 L1144.10 574.13 L1144.60 574.13 L1145.10 574.12 L1145.60 574.12 L1146.10 574.12 L1146.60 574.11 L1147.10 574.11 L1147.60 574.10 L1148.10 574.10 L1148.60 574.09 L1149.10 574.09 L1149.60 574.09 L1150.10 574.08 L1150.60 574.08 L1151.10 574.07 L1151.60 574.07 L1152.10 574.06 L1152.60 574.06 L1153.10 574.05 L1153.60 574.04 L1154.10 574.04 L1154.60 574.03 L1155.10 574.03 L1155.60 574.02 L1156.10 574.02 L1156.60 574.01 L1157.10 574.00 L1157.60 574.00 L1158.10 573.99 L1158.60 573.99 L1159.10 573.98 L1159.60 573.97 L1160.10 573.97 L1160.60 573.96 L1161.10 573.95 L1161.60 573.94 L1162.10 573.94 L1162.60 573.93 L1163.10 573.92 L1163.60 573.91 L1164.10 573.91 L1164.60 573.90 L1165.10 573.89 L1165.60 573.88 L1166.10 573.87 L1166.60 573.86 L1167.10 573.85 L1167.60 573.85 L1168.10 573.84 L1168.60 573.83 L1169.10 573.82 L1169.60 573.81 L1170.00 573.80 L1170.10 573.80 L1170.60 573.79 L1171.10 573.77 L1171.60 573.75 L1172.10 573.73 L1172.60 573.71 L1173.10 573.69 L1173.60 573.66 L1174.10 573.63 L1174.60 573.60 L1175.10 573.57 L1175.60 573.54 L1176.10 573.51 L1176.60 573.48 L1177.10 573.44 L1177.60 573.41 L1178.10 573.37 L1178.60 573.34 L1179.10 573.31 L1179.60 573.27 L1180.10 573.24 L1180.60 573.21 L1181.10 573.18 L1181.60 573.15 L1182.10 573.12 L1182.50 573.10 L1182.60 573.09 L1183.10 573.07 L1183.60 573.05 L1184.10 573.02 L1184.60 573.00 L1185.10 572.98 L1185.60 572.95 L1186.10 572.93 L1186.60 572.91 L1187.10 572.89 L1187.60 572.87 L1188.10 572.84 L1188.60 572.82 L1189.10 572.80 L1189.60 572.78 L1190.10 572.76 L1190.60 572.73 L1191.10 572.71 L1191.60 572.69 L1192.10 572.66 L1192.60 572.64 L1193.10 572.61 L1193.60 572.59 L1194.10 572.56 L1194.60 572.53 L1195.10 572.50 L1195.60 572.47 L1196.10 572.44 L1196.60 572.41 L1197.10 572.38 L1197.60 572.34 L1198.10 572.31 L1198.60 572.28 L1199.10 572.24 L1199.60 572.21 L1200.10 572.17 L1200.60 572.14 L1201.10 572.10 L1201.60 572.06 L1202.10 572.02 L1202.60 571.99 L1203.10 571.95 L1203.60 571.90 L1204.10 571.86 L1204.60 571.82 L1205.10 571.78 L1205.60 571.73 L1206.10 571.69 L1206.60 571.64 L1207.10 571.59 L1207.60 571.54 L1208.10 571.49 L1208.60 571.44 L1209.10 571.39 L1209.60 571.33 L1210.10 571.28 L1210.60 571.22 L1210.80 571.20 L1211.10 571.17 L1211.60 571.11 L1212.10 571.04 L1212.60 570.98 L1213.10 570.91 L1213.60 570.84 L1214.10 570.77 L1214.60 570.69 L1215.10 570.62 L1215.60 570.54 L1216.10 570.45 L1216.60 570.37 L1217.10 570.28 L1217.60 570.19 L1218.10 570.10 L1218.60 570.01 L1219.10 569.91 L1219.60 569.81 L1220.10 569.71 L1220.60 569.61 L1221.10 569.50 L1221.60 569.40 L1222.10 569.29 L1222.60 569.17 L1223.10 569.06 L1223.60 568.94 L1224.10 568.82 L1224.60 568.70 L1225.10 568.57 L1225.60 568.44 L1226.10 568.31 L1226.60 568.16 L1227.10 568.01 L1227.60 567.86 L1228.10 567.70 L1228.60 567.53 L1229.10 567.36 L1229.60 567.19 L1230.10 567.01 L1230.60 566.82 L1231.10 566.63 L1231.60 566.43 L1232.10 566.23 L1232.60 566.03 L1233.10 565.82 L1233.60 565.61 L1234.10 565.39 L1234.60 565.17 L1235.10 564.95 L1235.60 564.72 L1236.10 564.49 L1236.50 564.30 L1236.60 564.25 L1237.10 564.01 L1237.60 563.75 L1238.10 563.49 L1238.60 563.21 L1239.10 562.93 L1239.60 562.63 L1240.10 562.33 L1240.60 562.02 L1241.10 561.70 L1241.60 561.37 L1242.10 561.04 L1242.60 560.70 L1243.10 560.36 L1243.60 560.01 L1244.10 559.66 L1244.60 559.30 L1245.10 558.94 L1245.60 558.57 L1246.10 558.21 L1246.60 557.84 L1247.10 557.47 L1247.60 557.10 L1248.10 556.72 L1248.40 556.50 L1248.60 556.35 L1249.10 555.97 L1249.60 555.59 L1250.10 555.20 L1250.60 554.80 L1251.10 554.40 L1251.60 553.99 L1252.10 553.58 L1252.60 553.16 L1253.10 552.74 L1253.60 552.31 L1254.10 551.88 L1254.60 551.44 L1255.10 551.00 L1255.60 550.56 L1256.10 550.11 L1256.60 549.66 L1257.10 549.20 L1257.60 548.75 L1258.10 548.29 L1258.60 547.83 L1259.10 547.36 L1259.60 546.89 L1259.70 546.80 L1260.10 546.42 L1260.60 545.95 L1261.10 545.47 L1261.60 544.98 L1262.10 544.50 L1262.60 544.00 L1263.10 543.50 L1263.60 543.00 L1264.10 542.49 L1264.60 541.98 L1265.10 541.47 L1265.60 540.95 L1266.10 540.43 L1266.60 539.90 L1267.10 539.37 L1267.60 538.84 L1268.10 538.30 L1268.60 537.76 L1269.10 537.22 L1269.60 536.68 L1270.10 536.13 L1270.40 535.80 L1270.60 535.58 L1271.10 535.02 L1271.60 534.46 L1272.10 533.88 L1272.60 533.30 L1273.10 532.72 L1273.60 532.13 L1274.10 531.54 L1274.60 530.94 L1275.10 530.34 L1275.60 529.74 L1276.10 529.15 L1276.60 528.55 L1277.10 527.95 L1277.60 527.36 L1277.90 527.00 L1278.10 526.76 L1278.60 526.15 L1279.10 525.53 L1279.60 524.90 L1280.10 524.27 L1280.60 523.63 L1281.10 523.00 L1281.60 522.38 L1282.10 521.78 L1282.60 521.19 L1283.10 520.63 L1283.60 520.10 L1284.10 519.60 L1284.20 519.50 L1284.60 519.12 L1285.10 518.67 L1285.60 518.22 L1286.10 517.79 L1286.60 517.37 L1287.10 516.96 L1287.60 516.56 L1288.10 516.16 L1288.60 515.78 L1289.10 515.41 L1289.60 515.05 L1290.10 514.69 L1290.60 514.34 L1291.10 514.00 L1291.60 513.66 L1292.10 513.33 L1292.30 513.20 L1292.60 513.01 L1293.10 512.70 L1293.60 512.40 L1294.10 512.11 L1294.60 511.83 L1295.10 511.55 L1295.60 511.28 L1296.10 511.00 L1296.60 510.73 L1297.00 510.50 L1297.10 510.44 L1297.60 510.18 L1298.10 509.94 L1298.60 509.70 L1299.10 509.46 L1299.60 509.20 L1300.10 508.91 L1300.60 508.58 L1301.10 508.20 L1301.60 507.72 L1302.10 507.10 L1302.60 506.39 L1303.10 505.58 L1303.60 504.71 L1304.10 503.79 L1304.60 502.85 L1305.10 501.90 L1305.60 500.92 L1306.10 499.88 L1306.60 498.79 L1307.10 497.63 L1307.60 496.42 L1308.10 495.15 L1308.60 493.84 L1309.10 492.48 L1309.20 492.20 L1309.60 491.05 L1310.10 489.52 L1310.60 487.87 L1311.10 486.08 L1311.20 485.70 L1311.60 484.08 L1312.10 481.83 L1312.60 479.45 L1313.10 477.07 L1313.20 476.60 L1313.60 474.59 L1314.10 471.99 L1314.60 469.83 L1314.70 469.50 L1315.10 468.32 L1315.60 467.00 L1316.10 465.91 L1316.60 465.12 L1316.80 464.90 L1317.10 464.62 L1317.60 464.18 L1318.10 463.82 L1318.60 463.55 L1319.10 463.41 L1319.30 463.40 L1319.60 463.45 L1320.10 463.71 L1320.60 464.13 L1321.10 464.65 L1321.60 465.19 L1321.80 465.40 L1322.10 465.74 L1322.60 466.42 L1323.10 467.20 L1323.60 468.03 L1324.10 468.85 L1324.60 469.60 L1325.10 470.22 L1325.40 470.50 L1325.60 470.67 L1326.10 471.09 L1326.60 471.47 L1327.10 471.78 L1327.60 471.97 L1327.90 472.00 L1328.10 471.98 L1328.60 471.79 L1329.10 471.42 L1329.60 470.93 L1330.10 470.36 L1330.40 470.00 L1330.60 469.73 L1331.10 468.80 L1331.60 467.60 L1332.10 466.19 L1332.60 464.66 L1333.00 463.40 L1333.10 463.08 L1333.60 461.22 L1334.10 459.11 L1334.60 456.94 L1335.00 455.30 L1335.10 454.90 L1335.60 452.86 L1336.10 450.83 L1336.60 448.96 L1337.00 447.70 L1337.10 447.42 L1337.60 446.04 L1338.10 444.80 L1338.60 443.78 L1339.00 443.20 L1339.10 443.09 L1339.60 442.53 L1340.10 442.06 L1340.60 441.73 L1341.10 441.60 L1341.60 441.80 L1342.10 442.33 L1342.60 443.06 L1343.10 443.89 L1343.60 444.70 L1344.10 445.46 L1344.60 446.28 L1345.10 447.22 L1345.60 448.38 L1345.90 449.20 L1346.10 449.89 L1346.60 452.33 L1347.10 455.32 L1347.60 458.30 L1348.10 461.11 L1348.60 463.98 L1349.10 466.91 L1349.60 469.90 L1349.70 470.50 L1350.10 472.98 L1350.60 476.17 L1351.10 479.39 L1351.60 482.50 L1351.70 483.10 L1352.10 485.51 L1352.60 488.50 L1353.10 491.38 L1353.60 494.03 L1353.80 495.00 L1354.10 496.36 L1354.60 498.44 L1355.10 500.38 L1355.60 502.26 L1356.10 504.20 L1356.20 504.60 L1356.60 506.24 L1357.10 508.32 L1357.60 510.41 L1358.10 512.49 L1358.60 514.53 L1359.10 516.50 L1359.60 518.44 L1360.10 520.37 L1360.60 522.28 L1361.10 524.13 L1361.60 525.90 L1362.10 527.57 L1362.40 528.50 L1362.60 529.10 L1363.10 530.57 L1363.60 531.99 L1364.10 533.35 L1364.60 534.66 L1365.10 535.91 L1365.60 537.10 L1366.10 538.23 L1366.60 539.29 L1366.70 539.50 L1367.10 540.30 L1367.60 541.25 L1368.10 542.16 L1368.60 543.03 L1369.10 543.87 L1369.60 544.68 L1370.10 545.47 L1370.60 546.24 L1371.10 547.00 L1371.50 547.60 L1371.60 547.75 L1372.10 548.49 L1372.60 549.22 L1373.10 549.94 L1373.60 550.64 L1374.10 551.32 L1374.60 551.99 L1375.10 552.65 L1375.60 553.30 L1376.10 553.93 L1376.60 554.55 L1376.80 554.80 L1377.10 555.17 L1377.60 555.78 L1378.10 556.39 L1378.60 556.99 L1379.10 557.57 L1379.60 558.12 L1380.10 558.65 L1380.60 559.15 L1381.10 559.60 L1381.60 560.03 L1382.10 560.44 L1382.60 560.85 L1383.10 561.24 L1383.60 561.62 L1384.10 561.99 L1384.60 562.34 L1385.10 562.68 L1385.60 563.00 L1386.10 563.31 L1386.60 563.60 L1387.10 563.87 L1387.60 564.12 L1388.10 564.36 L1388.20 564.40 L1388.60 564.57 L1389.10 564.79 L1389.60 564.99 L1390.10 565.20 L1390.60 565.39 L1391.10 565.59 L1391.60 565.77 L1392.10 565.95 L1392.60 566.12 L1393.10 566.29 L1393.60 566.45 L1394.10 566.60 L1394.60 566.74 L1395.10 566.87 L1395.60 566.99 L1396.10 567.10 L1396.60 567.20 L1397.10 567.29 L1397.60 567.37 L1397.80 567.40 L1398.10 567.44 L1398.60 567.51 L1399.10 567.57 L1399.60 567.63 L1400.10 567.69 L1400.60 567.75 L1401.10 567.81 L1401.60 567.86 L1402.10 567.92 L1402.60 567.97 L1403.10 568.02 L1403.60 568.06 L1404.10 568.11 L1404.60 568.15 L1405.10 568.19 L1405.60 568.23 L1406.10 568.27 L1406.60 568.31 L1407.10 568.34 L1407.60 568.37 L1408.10 568.41 L1408.60 568.44 L1409.10 568.46 L1409.60 568.49 L1410.10 568.52 L1410.60 568.54 L1411.10 568.56 L1411.60 568.58 L1412.10 568.60 L1412.60 568.62 L1413.10 568.64 L1413.60 568.65 L1414.10 568.67 L1414.60 568.69 L1415.10 568.71 L1415.60 568.72 L1416.10 568.74 L1416.60 568.76 L1417.10 568.77 L1417.60 568.79 L1418.10 568.81 L1418.60 568.82 L1419.10 568.84 L1419.60 568.85 L1420.10 568.87 L1420.60 568.88 L1421.10 568.90 L1421.60 568.91 L1422.10 568.93 L1422.60 568.94 L1423.10 568.95 L1423.60 568.97 L1424.10 568.98 L1424.60 568.99 L1425.10 569.00 L1425.60 569.02 L1426.10 569.03 L1426.60 569.04 L1427.10 569.05 L1427.60 569.06 L1428.10 569.07 L1428.60 569.08 L1429.10 569.09 L1429.60 569.10 L1430.10 569.11 L1438.10 569.20 L1440.00 569.20 L1446.10 569.20 L1454.10 569.20 L1462.10 569.19 L1470.10 569.18 L1478.10 569.17 L1486.10 569.16 L1494.10 569.15 L1502.10 569.13 L1510.10 569.12 L1518.10 569.10 L1526.10 569.08 L1534.10 569.06 L1542.10 569.04 L1550.10 569.01 L1558.10 568.99 L1566.10 568.96 L1574.10 568.94 L1582.10 568.91 L1590.10 568.88 L1598.10 568.85 L1606.10 568.83 L1614.10 568.80 L1622.10 568.77 L1630.10 568.74 L1638.10 568.71 L1646.10 568.68 L1654.10 568.65 L1662.10 568.62 L1670.10 568.60 L1678.10 568.57 L1686.10 568.54 L1694.10 568.52 L1700.00 568.50 L1702.10 568.49 L1710.10 568.47 L1718.10 568.44 L1726.10 568.42 L1734.10 568.40 L1742.10 568.37 L1750.10 568.35 L1758.10 568.32 L1766.10 568.29 L1774.10 568.27 L1782.10 568.24 L1790.10 568.22 L1798.10 568.19 L1806.10 568.16 L1814.10 568.14 L1822.10 568.11 L1830.10 568.08 L1838.10 568.05 L1846.10 568.02 L1854.10 567.99 L1862.10 567.96 L1870.10 567.93 L1878.10 567.89 L1886.10 567.86 L1894.10 567.83 L1900.00 567.80 L1902.10 567.79 L1910.10 567.75 L1918.10 567.72 L1926.10 567.68 L1934.10 567.64 L1942.10 567.60 L1950.10 567.56 L1958.10 567.51 L1966.10 567.47 L1974.10 567.42 L1982.10 567.38 L1990.10 567.33 L1998.10 567.28 L2006.10 567.24 L2014.10 567.19 L2022.10 567.14 L2030.10 567.08 L2038.10 567.03 L2046.10 566.98 L2054.10 566.93 L2062.10 566.87 L2070.10 566.82 L2078.10 566.76 L2086.10 566.71 L2087.00 566.70" fill="none" stroke="#0000ff" stroke-width="2.00" stroke-linejoin="round" stroke-linecap="round"/>
<path d="M158.10 777.40 L159.10 775.56 L160.10 773.84 L161.10 772.22 L162.10 770.73 L163.10 769.35 L164.10 768.10 L164.70 767.40 L165.10 766.94 L166.10 765.79 L167.10 764.77 L168.10 764.06 L168.50 763.90 L169.10 763.74 L170.10 763.50 L171.10 763.35 L172.00 763.30 L172.10 763.30 L173.10 763.34 L174.10 763.42 L175.10 763.54 L176.10 763.69 L177.10 763.85 L178.00 764.00 L178.10 764.02 L179.10 764.25 L180.10 764.56 L181.10 764.90 L182.10 765.21 L183.10 765.43 L184.00 765.50 L184.10 765.50 L185.10 765.50 L186.10 765.50 L187.10 765.50 L188.10 765.50 L189.10 765.50 L190.10 765.50 L191.10 765.50 L192.10 765.49 L193.10 765.49 L194.10 765.49 L195.10 765.49 L196.10 765.49 L197.10 765.49 L198.10 765.48 L199.10 765.48 L200.10 765.48 L208.10 765.46 L216.10 765.43 L224.10 765.39 L232.10 765.35 L240.10 765.30 L248.10 765.25 L256.10 765.20 L264.10 765.15 L272.10 765.10 L280.10 765.05 L288.10 765.01 L296.10 764.96 L304.10 764.92 L310.00 764.90 L312.10 764.89 L320.10 764.86 L328.10 764.83 L336.10 764.80 L344.10 764.78 L352.10 764.75 L360.10 764.72 L368.10 764.70 L376.10 764.67 L384.10 764.65 L392.10 764.62 L400.10 764.60 L408.10 764.57 L416.10 764.55 L424.10 764.53 L432.10 764.51 L440.10 764.48 L448.10 764.46 L456.10 764.44 L464.10 764.42 L472.10 764.39 L480.10 764.37 L488.10 764.35 L496.10 764.33 L504.10 764.31 L512.10 764.28 L520.10 764.26 L528.10 764.24 L536.10 764.21 L544.10 764.19 L552.10 764.16 L560.10 764.14 L568.10 764.11 L576.10 764.08 L584.10 764.06 L592.10 764.03 L600.00 764.00 L600.10 764.00 L608.10 763.97 L616.10 763.94 L624.10 763.91 L632.10 763.88 L640.10 763.85 L648.10 763.82 L656.10 763.79 L664.10 763.76 L672.10 763.73 L680.10 763.70 L688.10 763.67 L696.10 763.64 L704.10 763.61 L712.10 763.58 L720.10 763.55 L728.10 763.51 L736.10 763.48 L744.10 763.44 L752.10 763.41 L760.10 763.37 L768.10 763.34 L776.10 763.30 L784.10 763.26 L792.10 763.22 L800.10 763.18 L808.10 763.14 L816.10 763.09 L824.10 763.05 L832.10 763.01 L840.10 762.96 L848.10 762.91 L850.00 762.90 L856.10 762.86 L864.10 762.80 L872.10 762.74 L880.10 762.67 L888.10 762.60 L896.10 762.52 L904.10 762.44 L912.10 762.36 L920.10 762.29 L928.10 762.21 L936.10 762.13 L944.10 762.06 L952.10 762.00 L960.10 761.94 L965.80 761.90 L968.10 761.89 L976.10 761.84 L984.10 761.80 L992.10 761.76 L1000.10 761.72 L1008.10 761.68 L1016.10 761.65 L1024.10 761.61 L1032.10 761.57 L1040.10 761.53 L1048.10 761.49 L1056.10 761.44 L1062.40 761.40 L1064.10 761.39 L1072.10 761.33 L1080.10 761.26 L1088.10 761.19 L1096.10 761.11 L1104.10 761.03 L1112.10 760.94 L1120.10 760.85 L1128.10 760.75 L1136.10 760.65 L1140.00 760.60 L1144.10 760.55 L1144.60 760.54 L1145.10 760.53 L1145.60 760.53 L1146.10 760.52 L1146.60 760.52 L1147.10 760.51 L1147.60 760.50 L1148.10 760.50 L1148.60 760.49 L1149.10 760.49 L1149.60 760.48 L1150.10 760.47 L1150.60 760.47 L1151.10 760.46 L1151.60 760.45 L1152.10 760.45 L1152.60 760.44 L1153.10 760.44 L1153.60 760.43 L1154.10 760.42 L1154.60 760.42 L1155.10 760.41 L1155.60 760.40 L1156.10 760.40 L1156.60 760.39 L1157.10 760.38 L1157.60 760.38 L1158.10 760.37 L1158.60 760.36 L1159.10 760.35 L1159.60 760.35 L1160.10 760.34 L1160.60 760.33 L1161.10 760.32 L1161.60 760.32 L1162.10 760.31 L1162.60 760.30 L1163.10 760.29 L1163.60 760.28 L1164.10 760.27 L1164.60 760.27 L1165.10 760.26 L1165.60 760.25 L1166.10 760.24 L1166.60 760.23 L1167.10 760.22 L1167.60 760.21 L1168.10 760.20 L1168.60 760.19 L1169.10 760.18 L1169.60 760.17 L1170.10 760.16 L1170.60 760.15 L1171.10 760.14 L1171.60 760.13 L1172.10 760.11 L1172.60 760.10 L1173.10 760.09 L1173.60 760.08 L1174.10 760.07 L1174.60 760.05 L1175.10 760.04 L1175.60 760.03 L1176.10 760.01 L1176.60 760.00 L1177.10 759.99 L1177.60 759.97 L1178.10 759.96 L1178.60 759.94 L1179.10 759.93 L1179.60 759.91 L1180.00 759.90 L1180.10 759.90 L1180.60 759.88 L1181.10 759.86 L1181.60 759.84 L1182.10 759.82 L1182.60 759.79 L1183.10 759.77 L1183.60 759.74 L1184.10 759.71 L1184.60 759.68 L1185.10 759.65 L1185.60 759.61 L1186.10 759.58 L1186.60 759.54 L1187.10 759.50 L1187.60 759.46 L1188.10 759.42 L1188.60 759.38 L1189.10 759.34 L1189.60 759.29 L1190.10 759.25 L1190.60 759.20 L1191.10 759.15 L1191.60 759.11 L1192.10 759.06 L1192.60 759.01 L1193.10 758.96 L1193.60 758.90 L1194.10 758.85 L1194.60 758.80 L1195.10 758.75 L1195.60 758.69 L1196.10 758.63 L1196.60 758.56 L1197.10 758.50 L1197.60 758.43 L1198.10 758.36 L1198.60 758.28 L1199.10 758.20 L1199.60 758.12 L1200.10 758.04 L1200.60 757.96 L1201.10 757.87 L1201.60 757.78 L1202.10 757.69 L1202.60 757.59 L1203.10 757.50 L1203.60 757.40 L1204.10 757.30 L1204.60 757.20 L1205.10 757.10 L1205.60 756.99 L1206.10 756.89 L1206.60 756.78 L1207.10 756.67 L1207.60 756.56 L1208.10 756.45 L1208.60 756.34 L1209.10 756.22 L1209.20 756.20 L1209.60 756.11 L1210.10 755.99 L1210.60 755.87 L1211.10 755.74 L1211.60 755.61 L1212.10 755.48 L1212.60 755.34 L1213.10 755.20 L1213.60 755.06 L1214.10 754.92 L1214.60 754.77 L1215.10 754.62 L1215.60 754.46 L1216.10 754.31 L1216.60 754.15 L1217.10 753.98 L1217.60 753.82 L1218.10 753.65 L1218.60 753.48 L1219.10 753.30 L1219.60 753.12 L1220.10 752.95 L1220.60 752.76 L1221.10 752.58 L1221.60 752.39 L1222.10 752.20 L1222.60 752.01 L1223.10 751.82 L1223.60 751.62 L1223.90 751.50 L1224.10 751.42 L1224.60 751.22 L1225.10 751.01 L1225.60 750.80 L1226.10 750.59 L1226.60 750.37 L1227.10 750.15 L1227.60 749.92 L1228.10 749.69 L1228.60 749.46 L1229.10 749.22 L1229.60 748.98 L1230.10 748.73 L1230.60 748.48 L1231.10 748.22 L1231.60 747.96 L1232.10 747.69 L1232.60 747.42 L1233.10 747.15 L1233.60 746.86 L1234.10 746.58 L1234.60 746.28 L1235.10 745.98 L1235.60 745.68 L1236.10 745.37 L1236.60 745.05 L1237.10 744.73 L1237.60 744.41 L1238.10 744.07 L1238.50 743.80 L1238.60 743.73 L1239.10 743.38 L1239.60 743.01 L1240.10 742.62 L1240.60 742.22 L1241.10 741.80 L1241.60 741.37 L1242.10 740.93 L1242.60 740.48 L1243.10 740.01 L1243.60 739.54 L1244.10 739.05 L1244.60 738.56 L1245.10 738.06 L1245.60 737.56 L1246.10 737.05 L1246.60 736.53 L1247.10 736.01 L1247.60 735.49 L1248.10 734.97 L1248.60 734.44 L1249.10 733.92 L1249.40 733.60 L1249.60 733.39 L1250.10 732.86 L1250.60 732.32 L1251.10 731.77 L1251.60 731.22 L1252.10 730.66 L1252.60 730.10 L1253.10 729.53 L1253.60 728.95 L1254.10 728.36 L1254.60 727.77 L1255.10 727.17 L1255.60 726.57 L1256.10 725.95 L1256.60 725.33 L1257.10 724.71 L1257.60 724.08 L1258.10 723.43 L1258.60 722.79 L1259.10 722.13 L1259.60 721.47 L1260.10 720.80 L1260.40 720.40 L1260.60 720.13 L1261.10 719.45 L1261.60 718.75 L1262.10 718.05 L1262.60 717.34 L1263.10 716.62 L1263.60 715.89 L1264.10 715.15 L1264.60 714.41 L1265.10 713.65 L1265.60 712.88 L1266.10 712.10 L1266.60 711.31 L1267.10 710.51 L1267.60 709.69 L1268.10 708.87 L1268.60 708.03 L1269.10 707.18 L1269.60 706.32 L1269.90 705.80 L1270.10 705.45 L1270.60 704.56 L1271.10 703.65 L1271.60 702.72 L1272.10 701.78 L1272.60 700.81 L1273.10 699.83 L1273.60 698.84 L1274.10 697.82 L1274.60 696.80 L1275.10 695.75 L1275.60 694.69 L1276.10 693.62 L1276.60 692.53 L1277.10 691.42 L1277.20 691.20 L1277.60 690.31 L1278.10 689.18 L1278.60 688.04 L1279.10 686.88 L1279.60 685.70 L1280.10 684.49 L1280.60 683.25 L1281.10 681.98 L1281.60 680.68 L1282.10 679.33 L1282.60 677.94 L1283.10 676.50 L1283.60 674.98 L1284.10 673.36 L1284.60 671.65 L1285.10 669.89 L1285.60 668.09 L1286.10 666.27 L1286.60 664.46 L1286.70 664.10 L1287.10 662.65 L1287.60 660.82 L1288.10 658.95 L1288.60 657.06 L1289.10 655.15 L1289.60 653.20 L1290.10 651.20 L1290.60 649.15 L1291.10 647.07 L1291.60 645.01 L1292.00 643.40 L1292.10 643.00 L1292.60 641.04 L1293.10 639.11 L1293.60 637.20 L1294.10 635.31 L1294.60 633.42 L1295.10 631.52 L1295.60 629.61 L1296.10 627.67 L1296.60 625.70 L1297.10 623.76 L1297.60 621.86 L1298.10 619.96 L1298.60 617.97 L1299.10 615.84 L1299.60 613.50 L1299.70 613.00 L1300.10 610.89 L1300.60 607.97 L1301.10 604.73 L1301.60 601.16 L1301.70 600.40 L1302.10 596.71 L1302.60 591.33 L1303.10 586.83 L1303.20 586.20 L1303.60 584.14 L1304.10 582.09 L1304.60 580.41 L1304.70 580.10 L1305.10 578.78 L1305.60 577.64 L1305.70 577.60 L1306.10 578.30 L1306.60 580.54 L1307.10 583.24 L1307.30 584.20 L1307.60 585.52 L1308.10 587.77 L1308.60 590.22 L1308.80 591.30 L1309.10 593.14 L1309.60 596.67 L1310.10 600.16 L1310.30 601.40 L1310.60 603.16 L1311.10 606.08 L1311.60 608.73 L1312.10 610.86 L1312.30 611.50 L1312.60 612.36 L1313.10 613.76 L1313.60 614.99 L1314.10 615.94 L1314.60 616.50 L1314.90 616.60 L1315.10 616.56 L1315.60 616.20 L1316.10 615.55 L1316.60 614.75 L1317.10 613.94 L1317.40 613.50 L1317.60 613.20 L1318.10 612.25 L1318.60 611.29 L1319.10 610.63 L1319.40 610.50 L1319.60 610.52 L1320.10 610.68 L1320.60 611.01 L1321.10 611.46 L1321.60 612.01 L1322.00 612.50 L1322.10 612.64 L1322.60 613.68 L1323.10 615.18 L1323.60 617.01 L1324.00 618.60 L1324.10 619.02 L1324.60 621.60 L1325.10 624.71 L1325.60 628.06 L1326.00 630.70 L1326.10 631.33 L1326.60 634.24 L1327.10 637.46 L1327.50 640.90 L1327.60 642.05 L1328.10 650.82 L1328.60 660.00 L1329.10 666.55 L1329.40 670.20 L1329.60 672.68 L1330.10 678.88 L1330.60 684.89 L1331.10 690.50 L1331.60 695.83 L1332.10 700.99 L1332.60 705.76 L1333.10 709.95 L1333.20 710.70 L1333.60 713.52 L1334.10 716.75 L1334.60 719.68 L1335.10 722.30 L1335.50 724.20 L1335.60 724.65 L1336.10 726.82 L1336.60 728.85 L1337.10 730.74 L1337.60 732.50 L1338.10 734.11 L1338.60 735.59 L1338.90 736.40 L1339.10 736.92 L1339.60 738.19 L1340.10 739.40 L1340.60 740.57 L1341.10 741.67 L1341.60 742.71 L1342.10 743.69 L1342.60 744.61 L1343.10 745.46 L1343.60 746.24 L1344.10 746.94 L1344.30 747.20 L1344.60 747.58 L1345.10 748.20 L1345.60 748.79 L1346.10 749.37 L1346.60 749.92 L1347.10 750.45 L1347.60 750.96 L1348.10 751.43 L1348.60 751.88 L1349.10 752.30 L1349.60 752.68 L1350.10 753.03 L1350.60 753.35 L1351.10 753.62 L1351.60 753.86 L1351.70 753.90 L1352.10 754.06 L1352.60 754.26 L1353.10 754.46 L1353.60 754.64 L1354.10 754.82 L1354.60 754.99 L1355.10 755.16 L1355.60 755.31 L1356.10 755.47 L1356.60 755.61 L1357.10 755.75 L1357.60 755.88 L1358.10 756.01 L1358.60 756.13 L1359.10 756.24 L1359.60 756.34 L1360.10 756.44 L1360.60 756.54 L1361.10 756.63 L1361.60 756.71 L1362.10 756.78 L1362.60 756.85 L1363.10 756.91 L1363.60 756.97 L1363.90 757.00 L1364.10 757.02 L1364.60 757.07 L1365.10 757.12 L1365.60 757.16 L1366.10 757.21 L1366.60 757.25 L1367.10 757.29 L1367.60 757.33 L1368.10 757.37 L1368.60 757.41 L1369.10 757.45 L1369.60 757.49 L1370.10 757.52 L1370.60 757.55 L1371.10 757.59 L1371.60 757.62 L1372.10 757.65 L1372.60 757.68 L1373.10 757.71 L1373.60 757.73 L1374.10 757.76 L1374.60 757.78 L1375.10 757.81 L1375.60 757.83 L1376.10 757.85 L1376.60 757.87 L1377.10 757.89 L1377.60 757.91 L1378.10 757.93 L1378.60 757.94 L1379.10 757.96 L1379.60 757.97 L1380.10 757.99 L1380.60 758.00 L1380.70 758.00 L1381.10 758.01 L1381.60 758.02 L1382.10 758.03 L1382.60 758.04 L1383.10 758.05 L1383.60 758.06 L1384.10 758.08 L1384.60 758.09 L1385.10 758.10 L1385.60 758.11 L1386.10 758.12 L1386.60 758.13 L1387.10 758.14 L1387.60 758.15 L1388.10 758.16 L1388.60 758.17 L1389.10 758.18 L1389.60 758.19 L1390.10 758.20 L1390.60 758.21 L1391.10 758.22 L1391.60 758.22 L1392.10 758.23 L1392.60 758.24 L1393.10 758.25 L1393.60 758.26 L1394.10 758.27 L1394.60 758.28 L1395.10 758.28 L1395.60 758.29 L1396.10 758.30 L1396.60 758.31 L1397.10 758.32 L1397.60 758.32 L1398.10 758.33 L1398.60 758.34 L1399.10 758.35 L1399.60 758.35 L1400.10 758.36 L1400.60 758.37 L1401.10 758.37 L1401.60 758.38 L1402.10 758.39 L1402.60 758.39 L1403.10 758.40 L1403.60 758.40 L1404.10 758.41 L1404.60 758.41 L1405.10 758.42 L1405.60 758.42 L1406.10 758.43 L1406.60 758.43 L1407.10 758.44 L1407.60 758.44 L1408.10 758.45 L1408.60 758.45 L1409.10 758.46 L1409.60 758.46 L1410.10 758.46 L1410.60 758.47 L1411.10 758.47 L1411.60 758.47 L1412.10 758.48 L1412.60 758.48 L1413.10 758.48 L1413.60 758.48 L1414.10 758.49 L1414.60 758.49 L1415.10 758.49 L1415.60 758.49 L1416.10 758.49 L1416.60 758.50 L1417.10 758.50 L1417.60 758.50 L1418.10 758.50 L1418.60 758.50 L1419.10 758.50 L1419.60 758.50 L1420.00 758.50 L1420.10 758.50 L1420.60 758.50 L1421.10 758.50 L1421.60 758.50 L1422.10 758.50 L1422.60 758.50 L1423.10 758.50 L1423.60 758.50 L1424.10 758.50 L1424.60 758.50 L1425.10 758.50 L1425.60 758.50 L1426.10 758.50 L1426.60 758.50 L1427.10 758.50 L1427.60 758.50 L1428.10 758.50 L1428.60 758.50 L1429.10 758.50 L1429.60 758.50 L1430.10 758.50 L1438.10 758.49 L1446.10 758.49 L1454.10 758.48 L1462.10 758.47 L1470.10 758.46 L1478.10 758.45 L1486.10 758.43 L1494.10 758.41 L1502.10 758.39 L1510.10 758.37 L1518.10 758.35 L1526.10 758.32 L1534.10 758.30 L1542.10 758.27 L1550.10 758.24 L1558.10 758.21 L1566.10 758.17 L1574.10 758.14 L1582.10 758.10 L1590.10 758.07 L1598.10 758.03 L1606.10 757.99 L1614.10 757.95 L1622.10 757.90 L1630.10 757.86 L1638.10 757.82 L1646.10 757.77 L1654.10 757.72 L1662.10 757.67 L1670.10 757.62 L1678.10 757.57 L1686.10 757.52 L1694.10 757.47 L1702.10 757.42 L1710.10 757.36 L1718.10 757.31 L1726.10 757.25 L1734.10 757.19 L1742.10 757.13 L1750.10 757.08 L1758.10 757.02 L1766.10 756.96 L1774.10 756.90 L1782.10 756.84 L1790.10 756.78 L1798.10 756.71 L1806.10 756.65 L1814.10 756.59 L1822.10 756.53 L1830.10 756.46 L1838.10 756.40 L1846.10 756.34 L1854.10 756.27 L1862.10 756.21 L1870.10 756.14 L1878.10 756.08 L1886.10 756.01 L1894.10 755.95 L1900.00 755.90 L1902.10 755.88 L1910.10 755.81 L1918.10 755.74 L1926.10 755.66 L1934.10 755.58 L1942.10 755.49 L1950.10 755.40 L1958.10 755.31 L1966.10 755.21 L1974.10 755.11 L1982.10 755.01 L1990.10 754.90 L1998.10 754.80 L2006.10 754.69 L2014.10 754.57 L2022.10 754.46 L2030.10 754.34 L2038.10 754.23 L2046.10 754.11 L2054.10 753.99 L2062.10 753.87 L2070.10 753.75 L2078.10 753.63 L2086.10 753.51 L2087.00 753.50" fill="none" stroke="#ff00ff" stroke-width="2.00" stroke-linejoin="round" stroke-linecap="round"/>
<path d="M158.10 917.00 L159.10 915.59 L160.10 914.25 L161.10 913.02 L162.00 912.00 L162.10 911.89 L163.10 910.77 L164.10 909.68 L165.10 908.76 L166.10 908.14 L166.20 908.10 L167.10 907.78 L168.10 907.45 L169.10 907.18 L170.10 906.97 L171.10 906.84 L172.00 906.80 L172.10 906.80 L173.10 906.84 L174.10 906.95 L175.10 907.09 L176.10 907.26 L177.10 907.44 L178.00 907.60 L178.10 907.62 L179.10 907.84 L180.10 908.11 L181.10 908.40 L182.10 908.66 L183.10 908.84 L184.00 908.90 L184.10 908.90 L185.10 908.90 L186.10 908.90 L187.10 908.90 L188.10 908.90 L189.10 908.90 L190.10 908.90 L191.10 908.90 L192.10 908.90 L193.10 908.89 L194.10 908.89 L195.10 908.89 L196.10 908.89 L197.10 908.89 L198.10 908.89 L199.10 908.88 L200.10 908.88 L208.10 908.86 L216.10 908.84 L224.10 908.80 L232.10 908.77 L240.10 908.73 L248.10 908.69 L256.10 908.65 L264.10 908.60 L272.10 908.56 L280.10 908.52 L288.10 908.48 L296.10 908.45 L304.10 908.42 L310.00 908.40 L312.10 908.39 L320.10 908.37 L328.10 908.35 L336.10 908.33 L344.10 908.31 L352.10 908.29 L360.10 908.27 L368.10 908.25 L376.10 908.24 L384.10 908.22 L392.10 908.20 L400.10 908.19 L408.10 908.17 L416.10 908.16 L424.10 908.14 L432.10 908.13 L440.10 908.11 L448.10 908.10 L456.10 908.08 L464.10 908.07 L472.10 908.05 L480.10 908.04 L488.10 908.02 L496.10 908.01 L504.10 908.00 L512.10 907.98 L520.10 907.97 L528.10 907.95 L536.10 907.94 L544.10 907.92 L552.10 907.90 L560.10 907.89 L568.10 907.87 L576.10 907.85 L584.10 907.84 L592.10 907.82 L600.00 907.80 L600.10 907.80 L608.10 907.78 L616.10 907.76 L624.10 907.74 L632.10 907.72 L640.10 907.70 L648.10 907.69 L656.10 907.67 L664.10 907.65 L672.10 907.63 L680.10 907.61 L688.10 907.59 L696.10 907.57 L704.10 907.55 L712.10 907.53 L720.10 907.50 L728.10 907.48 L736.10 907.46 L744.10 907.44 L752.10 907.42 L760.10 907.39 L768.10 907.37 L776.10 907.35 L784.10 907.32 L792.10 907.30 L800.10 907.27 L808.10 907.25 L816.10 907.22 L824.10 907.19 L832.10 907.16 L840.10 907.14 L848.10 907.11 L850.00 907.10 L856.10 907.08 L864.10 907.05 L872.10 907.01 L880.10 906.98 L888.10 906.94 L896.10 906.90 L904.10 906.86 L912.10 906.82 L920.10 906.78 L928.10 906.74 L936.10 906.70 L944.10 906.65 L952.10 906.61 L960.10 906.56 L968.10 906.52 L976.10 906.47 L984.10 906.42 L992.10 906.37 L1000.10 906.33 L1004.40 906.30 L1008.10 906.28 L1016.10 906.23 L1024.10 906.18 L1032.10 906.14 L1040.10 906.09 L1048.10 906.05 L1056.10 906.00 L1064.10 905.95 L1072.10 905.90 L1080.10 905.85 L1088.10 905.79 L1096.10 905.73 L1104.10 905.67 L1112.10 905.60 L1120.10 905.52 L1128.10 905.44 L1136.10 905.35 L1140.00 905.30 L1144.10 905.24 L1144.60 905.24 L1145.10 905.23 L1145.60 905.22 L1146.10 905.21 L1146.60 905.20 L1147.10 905.20 L1147.60 905.19 L1148.10 905.18 L1148.60 905.17 L1149.10 905.16 L1149.60 905.15 L1150.10 905.14 L1150.60 905.13 L1151.10 905.12 L1151.60 905.11 L1152.10 905.10 L1152.60 905.09 L1153.10 905.08 L1153.60 905.07 L1154.10 905.06 L1154.60 905.05 L1155.10 905.04 L1155.60 905.03 L1156.10 905.02 L1156.60 905.01 L1157.10 905.00 L1157.60 904.98 L1158.10 904.97 L1158.60 904.96 L1159.10 904.95 L1159.60 904.94 L1160.10 904.93 L1160.60 904.91 L1161.10 904.90 L1161.60 904.89 L1162.10 904.88 L1162.60 904.87 L1163.10 904.85 L1163.60 904.84 L1164.10 904.83 L1164.60 904.82 L1165.10 904.80 L1165.60 904.79 L1166.10 904.78 L1166.60 904.76 L1167.10 904.75 L1167.60 904.74 L1168.10 904.72 L1168.60 904.71 L1169.10 904.70 L1169.60 904.69 L1170.10 904.67 L1170.60 904.66 L1171.10 904.64 L1171.60 904.63 L1172.10 904.62 L1172.60 904.60 L1173.10 904.59 L1173.60 904.58 L1174.10 904.56 L1174.60 904.55 L1175.10 904.54 L1175.60 904.52 L1176.10 904.51 L1176.60 904.49 L1177.10 904.48 L1177.60 904.47 L1178.10 904.45 L1178.60 904.44 L1179.10 904.43 L1179.60 904.41 L1180.00 904.40 L1180.10 904.40 L1180.60 904.38 L1181.10 904.37 L1181.60 904.36 L1182.10 904.34 L1182.60 904.33 L1183.10 904.32 L1183.60 904.30 L1184.10 904.29 L1184.60 904.28 L1185.10 904.26 L1185.60 904.25 L1186.10 904.23 L1186.60 904.22 L1187.10 904.21 L1187.60 904.19 L1188.10 904.18 L1188.60 904.16 L1189.10 904.15 L1189.60 904.13 L1190.10 904.12 L1190.60 904.10 L1191.10 904.09 L1191.60 904.07 L1192.10 904.05 L1192.60 904.03 L1193.10 904.02 L1193.60 904.00 L1194.10 903.98 L1194.60 903.96 L1195.10 903.94 L1195.60 903.92 L1196.10 903.90 L1196.60 903.88 L1197.10 903.86 L1197.60 903.83 L1198.10 903.81 L1198.60 903.79 L1199.10 903.76 L1199.60 903.74 L1200.10 903.71 L1200.30 903.70 L1200.60 903.68 L1201.10 903.65 L1201.60 903.62 L1202.10 903.59 L1202.60 903.56 L1203.10 903.52 L1203.60 903.48 L1204.10 903.44 L1204.60 903.40 L1205.10 903.35 L1205.60 903.31 L1206.10 903.26 L1206.60 903.21 L1207.10 903.16 L1207.60 903.11 L1208.10 903.05 L1208.60 902.99 L1209.10 902.94 L1209.60 902.88 L1210.10 902.82 L1210.60 902.75 L1211.10 902.69 L1211.60 902.62 L1212.10 902.56 L1212.60 902.49 L1213.10 902.42 L1213.60 902.35 L1214.10 902.28 L1214.60 902.20 L1215.10 902.13 L1215.60 902.05 L1216.10 901.97 L1216.60 901.89 L1217.10 901.81 L1217.60 901.73 L1217.80 901.70 L1218.10 901.65 L1218.60 901.56 L1219.10 901.47 L1219.60 901.38 L1220.10 901.28 L1220.60 901.18 L1221.10 901.07 L1221.60 900.97 L1222.10 900.85 L1222.60 900.74 L1223.10 900.62 L1223.60 900.49 L1224.10 900.36 L1224.60 900.23 L1225.10 900.10 L1225.60 899.96 L1226.10 899.81 L1226.60 899.67 L1227.10 899.51 L1227.60 899.36 L1228.10 899.20 L1228.60 899.04 L1229.10 898.87 L1229.60 898.70 L1230.10 898.53 L1230.60 898.35 L1231.10 898.17 L1231.60 897.98 L1232.10 897.79 L1232.60 897.60 L1233.10 897.41 L1233.60 897.20 L1234.10 897.00 L1234.60 896.78 L1235.10 896.55 L1235.60 896.30 L1236.10 896.04 L1236.60 895.76 L1237.10 895.47 L1237.60 895.17 L1238.10 894.85 L1238.60 894.52 L1239.10 894.18 L1239.60 893.83 L1240.10 893.48 L1240.60 893.11 L1241.10 892.74 L1241.60 892.36 L1242.10 891.98 L1242.20 891.90 L1242.60 891.58 L1243.10 891.16 L1243.60 890.72 L1244.10 890.27 L1244.60 889.79 L1245.10 889.30 L1245.60 888.79 L1246.10 888.27 L1246.60 887.74 L1247.10 887.21 L1247.60 886.67 L1248.10 886.12 L1248.60 885.58 L1249.10 885.03 L1249.60 884.49 L1250.10 883.95 L1250.60 883.42 L1250.90 883.10 L1251.10 882.89 L1251.60 882.37 L1252.10 881.85 L1252.60 881.33 L1253.10 880.81 L1253.60 880.28 L1254.10 879.76 L1254.60 879.23 L1255.10 878.70 L1255.60 878.16 L1256.10 877.62 L1256.60 877.07 L1257.10 876.51 L1257.60 875.94 L1258.10 875.36 L1258.60 874.78 L1259.00 874.30 L1259.10 874.18 L1259.60 873.57 L1260.10 872.95 L1260.60 872.32 L1261.10 871.69 L1261.60 871.04 L1262.10 870.39 L1262.60 869.72 L1263.10 869.04 L1263.60 868.36 L1264.10 867.67 L1264.60 866.96 L1265.10 866.25 L1265.60 865.53 L1266.10 864.79 L1266.50 864.20 L1266.60 864.05 L1267.10 863.27 L1267.60 862.46 L1268.10 861.62 L1268.60 860.76 L1269.10 859.89 L1269.60 859.01 L1270.10 858.14 L1270.60 857.28 L1271.10 856.43 L1271.60 855.62 L1272.10 854.84 L1272.60 854.10 L1273.10 853.39 L1273.60 852.67 L1274.10 851.97 L1274.60 851.27 L1275.10 850.60 L1275.60 849.94 L1276.10 849.32 L1276.60 848.73 L1277.10 848.18 L1277.60 847.67 L1278.00 847.30 L1278.10 847.21 L1278.60 846.79 L1279.10 846.38 L1279.60 845.99 L1280.10 845.62 L1280.60 845.27 L1281.10 844.93 L1281.60 844.61 L1282.10 844.31 L1282.60 844.01 L1283.10 843.73 L1283.60 843.46 L1284.10 843.20 L1284.60 842.95 L1285.10 842.73 L1285.60 842.51 L1286.10 842.31 L1286.60 842.12 L1287.10 841.94 L1287.60 841.76 L1288.10 841.58 L1288.60 841.40 L1289.10 841.22 L1289.60 841.03 L1290.10 840.83 L1290.60 840.62 L1291.10 840.39 L1291.50 840.20 L1291.60 840.15 L1292.10 839.90 L1292.60 839.65 L1293.10 839.39 L1293.60 839.12 L1294.10 838.85 L1294.60 838.56 L1295.10 838.27 L1295.60 837.97 L1296.10 837.66 L1296.60 837.34 L1297.10 837.01 L1297.60 836.66 L1298.10 836.29 L1298.60 835.91 L1299.10 835.52 L1299.60 835.11 L1300.10 834.68 L1300.30 834.50 L1300.60 834.22 L1301.10 833.73 L1301.60 833.19 L1302.10 832.61 L1302.60 831.99 L1303.10 831.33 L1303.60 830.62 L1304.10 829.87 L1304.60 829.07 L1305.00 828.40 L1305.10 828.23 L1305.60 827.31 L1306.10 826.31 L1306.60 825.20 L1307.10 823.99 L1307.60 822.67 L1308.10 821.23 L1308.40 820.30 L1308.60 819.65 L1309.10 817.89 L1309.60 815.87 L1310.10 813.50 L1310.60 810.71 L1310.70 810.10 L1311.10 807.07 L1311.60 802.16 L1311.80 800.00 L1312.10 796.18 L1312.60 788.74 L1313.00 783.50 L1313.10 782.43 L1313.60 777.53 L1314.10 773.22 L1314.60 769.25 L1314.80 767.70 L1315.10 765.41 L1315.60 761.73 L1316.10 758.25 L1316.60 755.00 L1317.10 752.00 L1317.60 748.99 L1318.10 746.00 L1318.60 743.54 L1319.10 742.10 L1319.60 741.47 L1320.10 741.03 L1320.60 740.67 L1321.10 740.30 L1321.60 739.84 L1322.10 739.32 L1322.60 738.81 L1323.10 738.35 L1323.60 738.01 L1324.10 737.82 L1324.30 737.80 L1324.60 737.80 L1325.10 737.83 L1325.60 737.89 L1326.10 737.96 L1326.30 738.00 L1326.60 738.16 L1327.10 738.80 L1327.60 739.75 L1328.10 740.80 L1328.30 741.20 L1328.60 741.87 L1329.10 743.21 L1329.60 744.58 L1330.10 745.70 L1330.60 746.53 L1331.10 747.25 L1331.60 747.90 L1332.10 748.50 L1332.60 749.07 L1332.80 749.30 L1333.10 749.62 L1333.60 750.06 L1334.10 750.47 L1334.60 750.90 L1335.10 751.44 L1335.50 752.00 L1335.60 752.16 L1336.10 753.24 L1336.60 754.80 L1336.90 756.00 L1337.10 757.15 L1337.60 761.69 L1338.10 766.81 L1338.20 767.70 L1338.60 770.99 L1339.10 774.95 L1339.60 779.00 L1340.10 783.16 L1340.60 787.38 L1341.10 791.84 L1341.40 794.70 L1341.60 796.69 L1342.10 802.00 L1342.60 808.00 L1343.10 815.49 L1343.60 823.39 L1343.70 824.80 L1344.10 830.23 L1344.60 836.78 L1345.10 842.60 L1345.50 846.40 L1345.60 847.22 L1346.10 851.00 L1346.60 854.30 L1347.10 857.24 L1347.60 859.90 L1348.00 861.90 L1348.10 862.39 L1348.60 864.69 L1349.10 866.80 L1349.60 868.78 L1350.10 870.66 L1350.60 872.49 L1351.10 874.30 L1351.60 876.16 L1352.10 878.05 L1352.60 879.92 L1353.10 881.72 L1353.60 883.40 L1354.10 884.90 L1354.60 886.17 L1354.80 886.60 L1355.10 887.20 L1355.60 888.17 L1356.10 889.08 L1356.60 889.93 L1357.10 890.74 L1357.60 891.49 L1358.10 892.19 L1358.60 892.85 L1359.10 893.45 L1359.60 894.00 L1360.10 894.51 L1360.60 894.97 L1361.00 895.30 L1361.10 895.38 L1361.60 895.76 L1362.10 896.13 L1362.60 896.49 L1363.10 896.83 L1363.60 897.15 L1364.10 897.45 L1364.60 897.74 L1365.10 898.02 L1365.60 898.28 L1366.10 898.52 L1366.60 898.74 L1367.10 898.95 L1367.60 899.15 L1368.10 899.32 L1368.60 899.48 L1369.00 899.60 L1369.10 899.63 L1369.60 899.76 L1370.10 899.89 L1370.60 900.02 L1371.10 900.14 L1371.60 900.26 L1372.10 900.37 L1372.60 900.48 L1373.10 900.59 L1373.60 900.69 L1374.10 900.79 L1374.60 900.88 L1375.10 900.97 L1375.60 901.06 L1376.10 901.14 L1376.60 901.22 L1377.10 901.30 L1377.60 901.37 L1378.10 901.44 L1378.60 901.50 L1379.10 901.56 L1379.60 901.62 L1380.10 901.67 L1380.60 901.72 L1381.10 901.77 L1381.40 901.80 L1381.60 901.82 L1382.10 901.86 L1382.60 901.90 L1383.10 901.95 L1383.60 901.99 L1384.10 902.03 L1384.60 902.07 L1385.10 902.11 L1385.60 902.14 L1386.10 902.18 L1386.60 902.22 L1387.10 902.25 L1387.60 902.28 L1388.10 902.32 L1388.60 902.35 L1389.10 902.38 L1389.60 902.41 L1390.10 902.44 L1390.60 902.46 L1391.10 902.49 L1391.60 902.51 L1392.10 902.54 L1392.60 902.56 L1393.10 902.58 L1393.60 902.60 L1394.10 902.62 L1394.60 902.64 L1395.10 902.65 L1395.60 902.67 L1396.10 902.68 L1396.60 902.69 L1396.90 902.70 L1397.10 902.70 L1397.60 902.71 L1398.10 902.73 L1398.60 902.74 L1399.10 902.75 L1399.60 902.76 L1400.10 902.77 L1400.60 902.77 L1401.10 902.78 L1401.60 902.79 L1402.10 902.80 L1402.60 902.81 L1403.10 902.82 L1403.60 902.83 L1404.10 902.84 L1404.60 902.85 L1405.10 902.85 L1405.60 902.86 L1406.10 902.87 L1406.60 902.88 L1407.10 902.89 L1407.60 902.89 L1408.10 902.90 L1408.60 902.91 L1409.10 902.91 L1409.60 902.92 L1410.10 902.93 L1410.60 902.93 L1411.10 902.94 L1411.60 902.94 L1412.10 902.95 L1412.60 902.95 L1413.10 902.96 L1413.60 902.96 L1414.10 902.97 L1414.60 902.97 L1415.10 902.98 L1415.60 902.98 L1416.10 902.98 L1416.60 902.99 L1417.10 902.99 L1417.60 902.99 L1418.10 902.99 L1418.60 902.99 L1419.10 903.00 L1419.60 903.00 L1420.10 903.00 L1420.60 903.00 L1421.10 903.00 L1421.60 903.00 L1422.10 903.00 L1422.60 903.00 L1423.10 903.00 L1423.60 903.00 L1424.10 903.00 L1424.60 903.00 L1425.10 903.00 L1425.60 903.00 L1426.10 903.00 L1426.60 903.00 L1427.10 903.00 L1427.60 903.00 L1428.10 903.00 L1428.60 903.00 L1429.10 903.00 L1429.60 903.00 L1430.10 903.00 L1438.10 903.00 L1446.10 903.00 L1454.10 903.00 L1462.10 903.00 L1470.10 902.99 L1478.10 902.99 L1486.10 902.99 L1494.10 902.99 L1502.10 902.99 L1510.10 902.98 L1518.10 902.98 L1526.10 902.98 L1534.10 902.97 L1542.10 902.97 L1550.10 902.96 L1558.10 902.96 L1566.10 902.95 L1574.10 902.95 L1582.10 902.94 L1590.10 902.94 L1598.10 902.93 L1606.10 902.93 L1614.10 902.92 L1622.10 902.91 L1630.10 902.90 L1638.10 902.90 L1646.10 902.89 L1654.10 902.88 L1662.10 902.87 L1670.10 902.86 L1678.10 902.86 L1686.10 902.85 L1694.10 902.84 L1702.10 902.83 L1710.10 902.82 L1718.10 902.81 L1726.10 902.80 L1734.10 902.79 L1742.10 902.78 L1750.10 902.76 L1758.10 902.75 L1766.10 902.74 L1774.10 902.73 L1782.10 902.72 L1790.10 902.70 L1798.10 902.69 L1806.10 902.68 L1814.10 902.66 L1822.10 902.65 L1830.10 902.64 L1838.10 902.62 L1846.10 902.61 L1854.10 902.59 L1862.10 902.58 L1870.10 902.56 L1878.10 902.54 L1886.10 902.53 L1894.10 902.51 L1900.00 902.50 L1902.10 902.50 L1910.10 902.47 L1918.10 902.45 L1926.10 902.41 L1934.10 902.37 L1942.10 902.33 L1950.10 902.28 L1958.10 902.22 L1966.10 902.16 L1974.10 902.10 L1982.10 902.03 L1990.10 901.97 L1998.10 901.89 L2006.10 901.82 L2014.10 901.74 L2022.10 901.66 L2030.10 901.58 L2038.10 901.50 L2046.10 901.42 L2054.10 901.34 L2062.10 901.25 L2070.10 901.17 L2078.10 901.09 L2086.10 901.01 L2087.00 901.00" fill="none" stroke="#008000" stroke-width="2.00" stroke-linejoin="round" stroke-linecap="round"/>
<path d="M158.10 1099.70 L159.10 1098.11 L160.10 1096.64 L161.10 1095.29 L161.50 1094.80 L162.10 1094.09 L163.10 1092.95 L164.10 1091.92 L165.10 1091.03 L165.40 1090.80 L166.10 1090.29 L167.10 1089.61 L168.10 1089.05 L169.00 1088.70 L169.10 1088.67 L170.10 1088.39 L171.10 1088.15 L172.10 1087.97 L173.10 1087.90 L173.20 1087.90 L174.10 1087.94 L175.10 1088.06 L176.10 1088.22 L177.10 1088.39 L178.10 1088.53 L179.10 1088.60 L179.30 1088.60 L180.10 1088.60 L181.10 1088.60 L182.10 1088.60 L183.10 1088.60 L184.10 1088.60 L185.10 1088.60 L186.10 1088.60 L187.10 1088.60 L188.10 1088.60 L189.10 1088.60 L190.10 1088.59 L191.10 1088.59 L192.10 1088.59 L193.10 1088.59 L194.10 1088.59 L195.10 1088.59 L196.10 1088.59 L197.10 1088.59 L198.10 1088.58 L199.10 1088.58 L200.10 1088.58 L208.10 1088.57 L216.10 1088.55 L224.10 1088.52 L232.10 1088.50 L240.10 1088.47 L248.10 1088.44 L256.10 1088.41 L264.10 1088.37 L272.10 1088.34 L280.10 1088.31 L288.10 1088.28 L296.10 1088.25 L304.10 1088.22 L310.00 1088.20 L312.10 1088.19 L320.10 1088.17 L328.10 1088.14 L336.10 1088.12 L344.10 1088.10 L352.10 1088.07 L360.10 1088.05 L368.10 1088.02 L376.10 1088.00 L384.10 1087.98 L392.10 1087.95 L400.10 1087.93 L408.10 1087.91 L416.10 1087.88 L424.10 1087.86 L432.10 1087.83 L440.10 1087.81 L448.10 1087.79 L456.10 1087.76 L464.10 1087.74 L472.10 1087.71 L480.10 1087.69 L488.10 1087.66 L496.10 1087.64 L504.10 1087.62 L512.10 1087.59 L520.10 1087.57 L528.10 1087.54 L536.10 1087.51 L544.10 1087.49 L552.10 1087.46 L560.10 1087.44 L568.10 1087.41 L576.10 1087.38 L584.10 1087.36 L592.10 1087.33 L600.00 1087.30 L600.10 1087.30 L608.10 1087.27 L616.10 1087.24 L624.10 1087.22 L632.10 1087.19 L640.10 1087.16 L648.10 1087.13 L656.10 1087.10 L664.10 1087.07 L672.10 1087.05 L680.10 1087.02 L688.10 1086.99 L696.10 1086.96 L704.10 1086.93 L712.10 1086.90 L720.10 1086.87 L728.10 1086.84 L736.10 1086.80 L744.10 1086.77 L752.10 1086.74 L760.10 1086.71 L768.10 1086.68 L776.10 1086.64 L784.10 1086.61 L792.10 1086.57 L800.10 1086.54 L808.10 1086.50 L816.10 1086.46 L824.10 1086.43 L832.10 1086.39 L840.10 1086.35 L848.10 1086.31 L850.00 1086.30 L856.10 1086.27 L864.10 1086.22 L872.10 1086.18 L880.10 1086.13 L888.10 1086.07 L896.10 1086.02 L904.10 1085.96 L912.10 1085.91 L920.10 1085.85 L928.10 1085.80 L936.10 1085.74 L944.10 1085.69 L952.10 1085.64 L960.10 1085.59 L968.10 1085.54 L975.50 1085.50 L976.10 1085.50 L984.10 1085.46 L992.10 1085.42 L1000.10 1085.39 L1008.10 1085.36 L1016.10 1085.33 L1024.10 1085.30 L1032.10 1085.26 L1040.10 1085.23 L1048.10 1085.19 L1056.10 1085.14 L1062.40 1085.10 L1064.10 1085.09 L1072.10 1085.03 L1080.10 1084.96 L1088.10 1084.88 L1096.10 1084.78 L1104.10 1084.68 L1112.10 1084.57 L1120.10 1084.45 L1128.10 1084.32 L1136.10 1084.17 L1140.00 1084.10 L1144.10 1084.02 L1144.60 1084.01 L1145.10 1083.99 L1145.60 1083.98 L1146.10 1083.97 L1146.60 1083.96 L1147.10 1083.95 L1147.60 1083.94 L1148.10 1083.93 L1148.60 1083.91 L1149.10 1083.90 L1149.60 1083.89 L1150.10 1083.88 L1150.60 1083.87 L1151.10 1083.85 L1151.60 1083.84 L1152.10 1083.83 L1152.60 1083.81 L1153.10 1083.80 L1153.60 1083.79 L1154.10 1083.77 L1154.60 1083.76 L1155.10 1083.75 L1155.60 1083.73 L1156.10 1083.72 L1156.60 1083.70 L1157.10 1083.69 L1157.60 1083.67 L1158.10 1083.66 L1158.60 1083.64 L1159.10 1083.63 L1159.60 1083.61 L1160.10 1083.60 L1160.60 1083.58 L1161.10 1083.56 L1161.60 1083.55 L1162.10 1083.53 L1162.60 1083.51 L1163.10 1083.50 L1163.60 1083.48 L1164.10 1083.46 L1164.60 1083.45 L1165.10 1083.43 L1165.60 1083.41 L1166.10 1083.39 L1166.60 1083.37 L1167.10 1083.36 L1167.60 1083.34 L1168.10 1083.32 L1168.60 1083.30 L1169.10 1083.28 L1169.60 1083.26 L1170.10 1083.24 L1170.60 1083.22 L1171.10 1083.20 L1171.60 1083.18 L1172.10 1083.16 L1172.60 1083.14 L1173.10 1083.12 L1173.60 1083.09 L1174.10 1083.07 L1174.60 1083.05 L1175.10 1083.03 L1175.60 1083.01 L1176.10 1082.98 L1176.60 1082.96 L1177.10 1082.94 L1177.60 1082.92 L1178.10 1082.89 L1178.60 1082.87 L1179.10 1082.84 L1179.60 1082.82 L1180.00 1082.80 L1180.10 1082.80 L1180.60 1082.77 L1181.10 1082.74 L1181.60 1082.72 L1182.10 1082.69 L1182.60 1082.66 L1183.10 1082.63 L1183.60 1082.60 L1184.10 1082.56 L1184.60 1082.53 L1185.10 1082.50 L1185.60 1082.46 L1186.10 1082.43 L1186.60 1082.39 L1187.10 1082.35 L1187.60 1082.31 L1188.10 1082.28 L1188.60 1082.24 L1189.10 1082.19 L1189.60 1082.15 L1190.10 1082.11 L1190.60 1082.07 L1191.10 1082.02 L1191.60 1081.98 L1192.10 1081.93 L1192.60 1081.89 L1193.10 1081.84 L1193.60 1081.79 L1194.10 1081.75 L1194.60 1081.70 L1195.10 1081.65 L1195.60 1081.60 L1196.10 1081.55 L1196.60 1081.50 L1197.10 1081.44 L1197.60 1081.39 L1198.10 1081.34 L1198.60 1081.29 L1199.10 1081.23 L1199.60 1081.18 L1200.10 1081.12 L1200.30 1081.10 L1200.60 1081.07 L1201.10 1081.01 L1201.60 1080.95 L1202.10 1080.89 L1202.60 1080.83 L1203.10 1080.77 L1203.60 1080.71 L1204.10 1080.64 L1204.60 1080.57 L1205.10 1080.51 L1205.60 1080.44 L1206.10 1080.37 L1206.60 1080.30 L1207.10 1080.22 L1207.60 1080.15 L1208.10 1080.07 L1208.60 1080.00 L1209.10 1079.92 L1209.60 1079.84 L1210.10 1079.76 L1210.60 1079.68 L1211.10 1079.59 L1211.60 1079.51 L1212.10 1079.42 L1212.60 1079.34 L1213.10 1079.25 L1213.60 1079.16 L1214.10 1079.07 L1214.60 1078.98 L1215.10 1078.88 L1215.60 1078.79 L1216.10 1078.69 L1216.60 1078.60 L1217.10 1078.50 L1217.60 1078.40 L1218.10 1078.30 L1218.60 1078.20 L1219.10 1078.09 L1219.60 1077.99 L1220.10 1077.89 L1220.50 1077.80 L1220.60 1077.78 L1221.10 1077.67 L1221.60 1077.56 L1222.10 1077.45 L1222.60 1077.34 L1223.10 1077.22 L1223.60 1077.11 L1224.10 1076.99 L1224.60 1076.87 L1225.10 1076.74 L1225.60 1076.62 L1226.10 1076.49 L1226.60 1076.36 L1227.10 1076.22 L1227.60 1076.09 L1228.10 1075.95 L1228.60 1075.81 L1229.10 1075.66 L1229.60 1075.51 L1230.10 1075.36 L1230.60 1075.20 L1231.10 1075.05 L1231.60 1074.88 L1232.10 1074.72 L1232.60 1074.55 L1233.10 1074.37 L1233.60 1074.19 L1234.10 1074.01 L1234.60 1073.83 L1235.10 1073.64 L1235.60 1073.44 L1236.10 1073.24 L1236.60 1073.04 L1237.10 1072.83 L1237.40 1072.70 L1237.60 1072.61 L1238.10 1072.38 L1238.60 1072.14 L1239.10 1071.87 L1239.60 1071.60 L1240.10 1071.31 L1240.60 1071.00 L1241.10 1070.68 L1241.60 1070.36 L1242.10 1070.02 L1242.60 1069.67 L1243.10 1069.31 L1243.60 1068.94 L1244.10 1068.57 L1244.60 1068.19 L1245.10 1067.81 L1245.60 1067.42 L1246.10 1067.02 L1246.60 1066.62 L1247.10 1066.22 L1247.60 1065.82 L1248.10 1065.42 L1248.60 1065.02 L1249.10 1064.62 L1249.60 1064.22 L1250.10 1063.83 L1250.60 1063.43 L1250.90 1063.20 L1251.10 1063.05 L1251.60 1062.66 L1252.10 1062.27 L1252.60 1061.88 L1253.10 1061.49 L1253.60 1061.10 L1254.10 1060.70 L1254.60 1060.30 L1255.10 1059.89 L1255.60 1059.48 L1256.10 1059.07 L1256.60 1058.65 L1257.10 1058.22 L1257.60 1057.79 L1258.10 1057.35 L1258.60 1056.90 L1259.10 1056.44 L1259.60 1055.97 L1260.10 1055.49 L1260.60 1055.00 L1261.10 1054.50 L1261.60 1053.98 L1262.10 1053.44 L1262.60 1052.87 L1263.10 1052.29 L1263.60 1051.69 L1264.10 1051.08 L1264.60 1050.46 L1265.10 1049.83 L1265.60 1049.20 L1266.10 1048.56 L1266.60 1047.92 L1267.10 1047.28 L1267.60 1046.65 L1267.80 1046.40 L1268.10 1046.02 L1268.60 1045.39 L1269.10 1044.76 L1269.60 1044.12 L1270.10 1043.47 L1270.60 1042.83 L1271.10 1042.18 L1271.60 1041.52 L1272.10 1040.87 L1272.60 1040.22 L1273.10 1039.56 L1273.60 1038.91 L1274.10 1038.25 L1274.60 1037.60 L1275.10 1036.95 L1275.60 1036.29 L1276.10 1035.62 L1276.60 1034.96 L1277.10 1034.29 L1277.60 1033.61 L1278.10 1032.94 L1278.60 1032.27 L1279.10 1031.59 L1279.60 1030.92 L1280.10 1030.25 L1280.60 1029.58 L1281.10 1028.91 L1281.60 1028.25 L1282.10 1027.59 L1282.60 1026.93 L1283.10 1026.29 L1283.60 1025.64 L1284.10 1025.01 L1284.60 1024.38 L1285.10 1023.77 L1285.40 1023.40 L1285.60 1023.16 L1286.10 1022.56 L1286.60 1021.98 L1287.10 1021.40 L1287.60 1020.84 L1288.10 1020.28 L1288.60 1019.73 L1289.10 1019.18 L1289.60 1018.63 L1290.10 1018.09 L1290.60 1017.55 L1291.10 1017.01 L1291.60 1016.47 L1292.10 1015.93 L1292.60 1015.38 L1293.10 1014.83 L1293.60 1014.27 L1294.10 1013.70 L1294.60 1013.12 L1295.10 1012.53 L1295.60 1011.94 L1296.10 1011.32 L1296.20 1011.20 L1296.60 1010.71 L1297.10 1010.11 L1297.60 1009.52 L1298.10 1008.93 L1298.60 1008.34 L1299.10 1007.74 L1299.60 1007.13 L1300.10 1006.50 L1300.60 1005.85 L1301.10 1005.17 L1301.60 1004.45 L1302.10 1003.69 L1302.60 1002.88 L1303.10 1002.02 L1303.60 1001.10 L1304.10 1000.09 L1304.60 998.95 L1305.10 997.66 L1305.60 996.23 L1306.10 994.64 L1306.40 993.60 L1306.60 992.87 L1307.10 990.81 L1307.60 988.38 L1308.10 985.49 L1308.40 983.50 L1308.60 981.89 L1309.10 976.62 L1309.60 971.00 L1309.70 970.00 L1310.10 966.33 L1310.60 962.08 L1311.10 957.76 L1311.60 952.90 L1312.10 946.90 L1312.60 940.17 L1313.10 933.76 L1313.20 932.60 L1313.60 928.13 L1314.10 922.83 L1314.60 918.21 L1314.70 917.40 L1315.10 914.36 L1315.60 910.87 L1316.10 907.80 L1316.60 905.24 L1316.70 904.80 L1317.10 903.13 L1317.60 901.23 L1318.10 899.54 L1318.60 898.10 L1319.10 896.91 L1319.20 896.70 L1319.60 895.92 L1320.10 895.04 L1320.60 894.31 L1321.10 893.76 L1321.30 893.60 L1321.60 893.39 L1322.10 893.07 L1322.60 892.81 L1323.10 892.65 L1323.50 892.60 L1323.60 892.62 L1324.10 893.29 L1324.60 894.60 L1325.10 896.12 L1325.30 896.70 L1325.60 897.57 L1326.10 899.18 L1326.60 900.99 L1327.10 902.96 L1327.30 903.80 L1327.60 905.13 L1328.10 907.58 L1328.60 910.26 L1329.10 913.12 L1329.40 914.90 L1329.60 916.13 L1330.10 919.42 L1330.60 922.92 L1331.10 926.49 L1331.40 928.60 L1331.60 929.99 L1332.10 933.46 L1332.60 936.96 L1333.10 940.52 L1333.40 942.70 L1333.60 944.13 L1334.10 947.52 L1334.60 951.01 L1335.10 955.04 L1335.40 957.90 L1335.60 960.05 L1336.10 966.71 L1336.40 972.00 L1336.60 977.50 L1337.00 989.60 L1337.10 991.37 L1337.60 998.93 L1338.10 1004.82 L1338.60 1009.69 L1339.10 1014.20 L1339.60 1018.53 L1340.10 1022.48 L1340.60 1026.12 L1341.10 1029.53 L1341.60 1032.77 L1342.00 1035.30 L1342.10 1035.93 L1342.60 1039.05 L1343.10 1042.10 L1343.60 1044.98 L1344.10 1047.63 L1344.60 1049.97 L1344.80 1050.80 L1345.10 1051.97 L1345.60 1053.83 L1346.10 1055.57 L1346.60 1057.20 L1347.10 1058.71 L1347.60 1060.11 L1348.10 1061.41 L1348.60 1062.61 L1349.00 1063.50 L1349.10 1063.71 L1349.60 1064.76 L1350.10 1065.77 L1350.60 1066.74 L1351.10 1067.66 L1351.60 1068.54 L1352.10 1069.36 L1352.60 1070.13 L1353.10 1070.85 L1353.60 1071.50 L1354.10 1072.08 L1354.60 1072.60 L1355.10 1073.07 L1355.60 1073.53 L1356.10 1073.97 L1356.60 1074.40 L1357.10 1074.80 L1357.60 1075.19 L1358.10 1075.56 L1358.60 1075.91 L1359.10 1076.25 L1359.60 1076.56 L1360.10 1076.86 L1360.60 1077.13 L1361.10 1077.39 L1361.60 1077.62 L1362.10 1077.83 L1362.60 1078.03 L1363.10 1078.20 L1363.60 1078.36 L1364.10 1078.52 L1364.60 1078.67 L1365.10 1078.82 L1365.60 1078.96 L1366.10 1079.11 L1366.60 1079.25 L1367.10 1079.38 L1367.60 1079.51 L1368.10 1079.64 L1368.60 1079.76 L1369.10 1079.88 L1369.60 1080.00 L1370.10 1080.11 L1370.60 1080.22 L1371.10 1080.32 L1371.60 1080.42 L1372.10 1080.52 L1372.60 1080.61 L1373.10 1080.70 L1373.60 1080.78 L1374.10 1080.86 L1374.60 1080.93 L1375.10 1081.00 L1375.60 1081.07 L1376.10 1081.13 L1376.60 1081.18 L1377.10 1081.23 L1377.60 1081.28 L1378.10 1081.32 L1378.60 1081.36 L1379.10 1081.39 L1379.20 1081.40 L1379.60 1081.42 L1380.10 1081.45 L1380.60 1081.48 L1381.10 1081.51 L1381.60 1081.54 L1382.10 1081.56 L1382.60 1081.59 L1383.10 1081.62 L1383.60 1081.64 L1384.10 1081.67 L1384.60 1081.69 L1385.10 1081.71 L1385.60 1081.74 L1386.10 1081.76 L1386.60 1081.78 L1387.10 1081.80 L1387.60 1081.82 L1388.10 1081.84 L1388.60 1081.86 L1389.10 1081.88 L1389.60 1081.90 L1390.10 1081.92 L1390.60 1081.93 L1391.10 1081.95 L1391.60 1081.96 L1392.10 1081.98 L1392.60 1081.99 L1393.10 1082.01 L1393.60 1082.02 L1394.10 1082.03 L1394.60 1082.04 L1395.10 1082.05 L1395.60 1082.06 L1396.10 1082.07 L1396.60 1082.07 L1397.10 1082.08 L1397.60 1082.09 L1398.10 1082.09 L1398.60 1082.09 L1399.10 1082.10 L1399.60 1082.10 L1400.10 1082.10 L1400.30 1082.10 L1400.60 1082.10 L1401.10 1082.10 L1401.60 1082.10 L1402.10 1082.10 L1402.60 1082.10 L1403.10 1082.10 L1403.60 1082.10 L1404.10 1082.10 L1404.60 1082.10 L1405.10 1082.10 L1405.60 1082.10 L1406.10 1082.10 L1406.60 1082.10 L1407.10 1082.10 L1407.60 1082.10 L1408.10 1082.10 L1408.60 1082.10 L1409.10 1082.10 L1409.60 1082.10 L1410.10 1082.10 L1410.60 1082.10 L1411.10 1082.10 L1411.60 1082.10 L1412.10 1082.10 L1412.60 1082.10 L1413.10 1082.10 L1413.60 1082.10 L1414.10 1082.10 L1414.60 1082.10 L1415.10 1082.10 L1415.60 1082.10 L1416.10 1082.10 L1416.60 1082.10 L1417.10 1082.10 L1417.60 1082.10 L1418.10 1082.10 L1418.60 1082.10 L1419.10 1082.10 L1419.60 1082.10 L1420.10 1082.10 L1420.60 1082.10 L1421.10 1082.10 L1421.60 1082.10 L1422.10 1082.10 L1422.60 1082.10 L1423.10 1082.10 L1423.60 1082.10 L1424.10 1082.10 L1424.60 1082.10 L1425.00 1082.10 L1425.10 1082.10 L1425.60 1082.10 L1426.10 1082.10 L1426.60 1082.10 L1427.10 1082.10 L1427.60 1082.10 L1428.10 1082.10 L1428.60 1082.10 L1429.10 1082.10 L1429.60 1082.10 L1430.10 1082.10 L1438.10 1082.10 L1446.10 1082.10 L1454.10 1082.09 L1462.10 1082.09 L1470.10 1082.08 L1478.10 1082.08 L1486.10 1082.07 L1494.10 1082.06 L1502.10 1082.05 L1510.10 1082.04 L1518.10 1082.03 L1526.10 1082.02 L1534.10 1082.01 L1542.10 1082.00 L1550.10 1081.98 L1558.10 1081.97 L1566.10 1081.95 L1574.10 1081.94 L1582.10 1081.92 L1590.10 1081.90 L1598.10 1081.89 L1606.10 1081.87 L1614.10 1081.85 L1622.10 1081.83 L1630.10 1081.81 L1638.10 1081.79 L1646.10 1081.77 L1654.10 1081.75 L1662.10 1081.73 L1670.10 1081.70 L1678.10 1081.68 L1686.10 1081.66 L1694.10 1081.64 L1702.10 1081.61 L1710.10 1081.59 L1718.10 1081.57 L1726.10 1081.54 L1734.10 1081.52 L1742.10 1081.49 L1750.10 1081.47 L1758.10 1081.44 L1766.10 1081.42 L1774.10 1081.39 L1782.10 1081.37 L1790.10 1081.34 L1798.10 1081.32 L1806.10 1081.29 L1814.10 1081.27 L1822.10 1081.24 L1830.10 1081.22 L1838.10 1081.19 L1846.10 1081.16 L1854.10 1081.14 L1862.10 1081.11 L1870.10 1081.09 L1878.10 1081.07 L1886.10 1081.04 L1894.10 1081.02 L1900.00 1081.00 L1902.10 1080.99 L1910.10 1080.97 L1918.10 1080.94 L1926.10 1080.92 L1934.10 1080.89 L1942.10 1080.87 L1950.10 1080.84 L1958.10 1080.81 L1966.10 1080.78 L1974.10 1080.75 L1982.10 1080.72 L1990.10 1080.69 L1998.10 1080.66 L2006.10 1080.63 L2014.10 1080.60 L2022.10 1080.57 L2030.10 1080.53 L2038.10 1080.50 L2046.10 1080.47 L2054.10 1080.44 L2062.10 1080.40 L2070.10 1080.37 L2078.10 1080.34 L2086.10 1080.30 L2087.00 1080.30" fill="none" stroke="#000080" stroke-width="2.00" stroke-linejoin="round" stroke-linecap="round"/>
<path d="M158.10 1229.00 L159.10 1226.94 L160.10 1225.04 L161.00 1223.50 L161.10 1223.34 L162.10 1221.76 L163.10 1220.31 L164.10 1219.10 L164.30 1218.90 L165.10 1218.14 L166.10 1217.29 L167.10 1216.66 L167.50 1216.50 L168.10 1216.31 L169.10 1216.03 L170.10 1215.84 L170.80 1215.80 L171.10 1215.80 L172.10 1215.88 L173.10 1216.04 L174.10 1216.27 L175.10 1216.54 L176.10 1216.84 L177.10 1217.15 L178.10 1217.45 L179.10 1217.72 L180.10 1217.96 L180.90 1218.10 L181.10 1218.13 L182.10 1218.29 L183.10 1218.45 L184.10 1218.60 L185.10 1218.73 L186.10 1218.83 L187.10 1218.89 L187.80 1218.90 L188.10 1218.90 L189.10 1218.83 L190.10 1218.71 L191.10 1218.58 L192.10 1218.46 L193.10 1218.40 L193.20 1218.40 L194.10 1218.39 L195.10 1218.38 L196.10 1218.37 L197.10 1218.36 L198.10 1218.35 L199.10 1218.34 L200.10 1218.33 L208.10 1218.26 L216.10 1218.20 L224.10 1218.15 L232.10 1218.11 L240.10 1218.07 L248.10 1218.05 L256.10 1218.03 L264.10 1218.01 L272.10 1217.99 L280.10 1217.98 L288.10 1217.96 L296.10 1217.94 L304.10 1217.92 L310.00 1217.90 L312.10 1217.89 L320.10 1217.86 L328.10 1217.84 L336.10 1217.81 L344.10 1217.78 L352.10 1217.76 L360.10 1217.73 L368.10 1217.71 L376.10 1217.69 L384.10 1217.66 L392.10 1217.64 L400.10 1217.62 L408.10 1217.60 L416.10 1217.58 L424.10 1217.55 L432.10 1217.53 L440.10 1217.51 L448.10 1217.49 L456.10 1217.47 L464.10 1217.45 L472.10 1217.43 L480.10 1217.41 L488.10 1217.38 L496.10 1217.36 L504.10 1217.34 L512.10 1217.31 L520.10 1217.29 L528.10 1217.26 L536.10 1217.24 L544.10 1217.21 L552.10 1217.19 L560.10 1217.16 L568.10 1217.13 L576.10 1217.10 L584.10 1217.07 L592.10 1217.03 L600.00 1217.00 L600.10 1217.00 L608.10 1216.96 L616.10 1216.93 L624.10 1216.88 L632.10 1216.84 L640.10 1216.80 L648.10 1216.75 L656.10 1216.70 L664.10 1216.65 L672.10 1216.60 L680.10 1216.54 L688.10 1216.49 L696.10 1216.43 L700.00 1216.40 L704.10 1216.37 L712.10 1216.31 L720.10 1216.24 L728.10 1216.17 L736.10 1216.10 L744.10 1216.02 L752.10 1215.94 L760.10 1215.86 L768.10 1215.78 L776.10 1215.70 L784.10 1215.61 L792.10 1215.52 L800.10 1215.43 L808.10 1215.35 L816.10 1215.26 L824.10 1215.17 L832.10 1215.08 L840.10 1214.99 L848.10 1214.90 L856.10 1214.81 L864.10 1214.73 L872.10 1214.64 L880.10 1214.56 L885.80 1214.50 L888.10 1214.48 L896.10 1214.40 L904.10 1214.32 L912.10 1214.25 L920.10 1214.18 L928.10 1214.12 L936.10 1214.05 L944.10 1213.98 L952.10 1213.92 L960.10 1213.85 L968.10 1213.78 L976.10 1213.71 L984.10 1213.63 L992.10 1213.55 L1000.10 1213.47 L1008.10 1213.38 L1016.10 1213.29 L1024.10 1213.19 L1032.10 1213.09 L1040.10 1212.97 L1045.00 1212.90 L1048.10 1212.85 L1056.10 1212.70 L1064.10 1212.53 L1072.10 1212.32 L1080.00 1212.10 L1080.10 1212.10 L1088.10 1211.83 L1096.10 1211.50 L1100.00 1211.30 L1104.10 1211.03 L1112.10 1210.32 L1120.10 1209.50 L1125.00 1209.00 L1128.10 1208.70 L1136.10 1207.95 L1144.10 1207.12 L1144.60 1207.06 L1145.10 1207.01 L1145.60 1206.95 L1146.10 1206.89 L1146.60 1206.83 L1147.10 1206.77 L1147.60 1206.71 L1148.10 1206.65 L1148.60 1206.58 L1149.10 1206.52 L1149.60 1206.45 L1150.00 1206.40 L1150.10 1206.39 L1150.60 1206.32 L1151.10 1206.25 L1151.60 1206.18 L1152.10 1206.10 L1152.60 1206.03 L1153.10 1205.95 L1153.60 1205.87 L1154.10 1205.79 L1154.60 1205.71 L1155.10 1205.62 L1155.60 1205.53 L1156.10 1205.45 L1156.60 1205.36 L1157.10 1205.27 L1157.60 1205.18 L1158.10 1205.08 L1158.60 1204.99 L1159.10 1204.89 L1159.60 1204.80 L1160.10 1204.70 L1160.60 1204.60 L1161.10 1204.50 L1161.60 1204.40 L1162.10 1204.29 L1162.60 1204.19 L1163.10 1204.08 L1163.60 1203.97 L1164.10 1203.86 L1164.60 1203.74 L1165.10 1203.63 L1165.60 1203.51 L1166.10 1203.40 L1166.60 1203.28 L1167.10 1203.16 L1167.60 1203.04 L1168.10 1202.92 L1168.60 1202.79 L1169.10 1202.67 L1169.60 1202.54 L1170.10 1202.42 L1170.60 1202.29 L1171.10 1202.16 L1171.60 1202.03 L1172.10 1201.90 L1172.60 1201.77 L1173.10 1201.64 L1173.60 1201.51 L1174.10 1201.38 L1174.60 1201.24 L1175.10 1201.11 L1175.60 1200.98 L1176.10 1200.84 L1176.60 1200.71 L1177.00 1200.60 L1177.10 1200.57 L1177.60 1200.44 L1178.10 1200.30 L1178.60 1200.17 L1179.10 1200.03 L1179.60 1199.89 L1180.10 1199.75 L1180.60 1199.61 L1181.10 1199.47 L1181.60 1199.33 L1182.10 1199.19 L1182.60 1199.04 L1183.10 1198.90 L1183.60 1198.75 L1184.10 1198.61 L1184.60 1198.46 L1185.10 1198.31 L1185.60 1198.16 L1186.10 1198.01 L1186.60 1197.86 L1187.10 1197.71 L1187.60 1197.55 L1188.10 1197.40 L1188.60 1197.24 L1189.10 1197.08 L1189.60 1196.92 L1190.10 1196.76 L1190.60 1196.60 L1191.10 1196.44 L1191.60 1196.27 L1192.10 1196.11 L1192.60 1195.94 L1193.10 1195.77 L1193.60 1195.60 L1193.90 1195.50 L1194.10 1195.43 L1194.60 1195.26 L1195.10 1195.09 L1195.60 1194.91 L1196.10 1194.73 L1196.60 1194.56 L1197.10 1194.38 L1197.60 1194.20 L1198.10 1194.01 L1198.60 1193.83 L1199.10 1193.65 L1199.60 1193.46 L1200.10 1193.27 L1200.60 1193.08 L1201.10 1192.89 L1201.60 1192.70 L1202.10 1192.50 L1202.60 1192.31 L1203.10 1192.11 L1203.60 1191.91 L1204.10 1191.70 L1204.60 1191.50 L1205.10 1191.29 L1205.60 1191.09 L1206.10 1190.88 L1206.60 1190.66 L1207.10 1190.45 L1207.60 1190.23 L1208.10 1190.02 L1208.60 1189.80 L1209.10 1189.57 L1209.60 1189.35 L1210.10 1189.12 L1210.60 1188.89 L1210.80 1188.80 L1211.10 1188.66 L1211.60 1188.42 L1212.10 1188.18 L1212.60 1187.94 L1213.10 1187.69 L1213.60 1187.44 L1214.10 1187.19 L1214.60 1186.93 L1215.10 1186.67 L1215.60 1186.40 L1216.10 1186.13 L1216.60 1185.86 L1217.10 1185.59 L1217.60 1185.31 L1218.10 1185.03 L1218.60 1184.75 L1219.10 1184.47 L1219.60 1184.18 L1220.10 1183.89 L1220.60 1183.60 L1221.10 1183.31 L1221.60 1183.01 L1222.10 1182.72 L1222.60 1182.42 L1223.10 1182.12 L1223.60 1181.82 L1224.10 1181.52 L1224.30 1181.40 L1224.60 1181.22 L1225.10 1180.91 L1225.60 1180.60 L1226.10 1180.29 L1226.60 1179.98 L1227.10 1179.66 L1227.60 1179.34 L1228.10 1179.01 L1228.60 1178.69 L1229.10 1178.36 L1229.60 1178.02 L1230.10 1177.69 L1230.60 1177.35 L1231.10 1177.01 L1231.60 1176.66 L1232.10 1176.31 L1232.60 1175.96 L1233.10 1175.61 L1233.60 1175.25 L1234.10 1174.89 L1234.50 1174.60 L1234.60 1174.53 L1235.10 1174.16 L1235.60 1173.78 L1236.10 1173.40 L1236.60 1173.01 L1237.10 1172.62 L1237.60 1172.22 L1238.10 1171.82 L1238.60 1171.41 L1239.10 1171.01 L1239.60 1170.60 L1240.10 1170.19 L1240.60 1169.77 L1241.10 1169.36 L1241.60 1168.95 L1242.10 1168.53 L1242.60 1168.12 L1243.10 1167.71 L1243.60 1167.31 L1244.10 1166.90 L1244.60 1166.50 L1245.10 1166.10 L1245.60 1165.72 L1246.10 1165.33 L1246.60 1164.95 L1247.10 1164.57 L1247.60 1164.18 L1248.10 1163.80 L1248.60 1163.41 L1249.10 1163.02 L1249.60 1162.62 L1250.10 1162.21 L1250.60 1161.79 L1251.10 1161.36 L1251.40 1161.10 L1251.60 1160.92 L1252.10 1160.44 L1252.60 1159.93 L1253.10 1159.40 L1253.60 1158.86 L1254.10 1158.32 L1254.60 1157.78 L1255.10 1157.25 L1255.60 1156.75 L1256.10 1156.28 L1256.60 1155.86 L1256.80 1155.70 L1257.10 1155.48 L1257.60 1155.13 L1258.10 1154.81 L1258.60 1154.50 L1259.10 1154.22 L1259.60 1153.95 L1260.10 1153.68 L1260.60 1153.41 L1261.10 1153.14 L1261.60 1152.85 L1262.10 1152.56 L1262.60 1152.24 L1263.10 1151.90 L1263.50 1151.60 L1263.60 1151.52 L1264.10 1151.13 L1264.60 1150.73 L1265.10 1150.31 L1265.60 1149.88 L1266.10 1149.41 L1266.60 1148.92 L1267.10 1148.40 L1267.60 1147.84 L1268.10 1147.25 L1268.60 1146.61 L1268.90 1146.20 L1269.10 1145.92 L1269.60 1145.13 L1270.10 1144.24 L1270.60 1143.23 L1271.10 1142.09 L1271.60 1140.80 L1272.10 1139.16 L1272.60 1137.13 L1273.10 1134.94 L1273.20 1134.50 L1273.60 1132.82 L1274.10 1130.61 L1274.60 1127.86 L1274.70 1127.20 L1275.10 1123.46 L1275.60 1117.24 L1276.10 1111.50 L1276.60 1106.94 L1277.10 1103.12 L1277.20 1102.50 L1277.60 1100.37 L1278.10 1098.18 L1278.60 1096.20 L1279.10 1093.95 L1279.50 1093.00 L1279.60 1093.00 L1280.10 1093.06 L1280.60 1093.19 L1281.10 1093.40 L1281.30 1093.50 L1281.60 1093.99 L1282.10 1095.85 L1282.60 1098.12 L1282.80 1098.90 L1283.10 1099.94 L1283.60 1101.62 L1284.10 1103.34 L1284.60 1105.20 L1285.10 1107.31 L1285.60 1109.61 L1286.00 1111.50 L1286.10 1112.00 L1286.60 1114.97 L1287.10 1118.02 L1287.60 1120.14 L1287.80 1120.50 L1288.10 1120.76 L1288.60 1121.10 L1289.10 1121.32 L1289.60 1121.40 L1290.10 1120.76 L1290.60 1119.18 L1291.10 1117.18 L1291.40 1116.00 L1291.60 1115.21 L1292.10 1112.92 L1292.60 1110.32 L1293.10 1107.56 L1293.20 1107.00 L1293.60 1104.66 L1294.10 1101.50 L1294.60 1098.25 L1295.00 1095.70 L1295.10 1095.06 L1295.60 1091.64 L1296.10 1088.22 L1296.60 1085.36 L1296.80 1084.50 L1297.10 1083.40 L1297.60 1081.76 L1298.10 1080.37 L1298.60 1079.27 L1299.00 1078.60 L1299.10 1078.46 L1299.60 1077.91 L1300.10 1077.48 L1300.60 1077.09 L1301.10 1076.63 L1301.30 1076.40 L1301.60 1075.95 L1302.10 1074.93 L1302.60 1073.85 L1303.10 1073.04 L1303.50 1072.80 L1303.60 1072.83 L1304.10 1073.86 L1304.60 1075.86 L1305.10 1078.21 L1305.30 1079.10 L1305.60 1080.48 L1306.10 1083.11 L1306.60 1086.08 L1306.70 1086.70 L1307.10 1089.33 L1307.60 1092.93 L1308.10 1096.85 L1308.50 1100.20 L1308.60 1101.06 L1309.10 1105.62 L1309.60 1110.57 L1310.10 1115.93 L1310.30 1118.20 L1310.60 1121.84 L1311.10 1128.58 L1311.20 1130.00 L1311.60 1136.49 L1311.90 1141.00 L1312.10 1143.44 L1312.60 1148.88 L1313.10 1153.62 L1313.50 1157.10 L1313.60 1157.94 L1314.10 1161.95 L1314.60 1165.66 L1315.10 1169.13 L1315.60 1172.45 L1315.70 1173.10 L1316.10 1175.72 L1316.60 1178.97 L1317.10 1181.98 L1317.60 1184.55 L1317.80 1185.40 L1318.10 1186.55 L1318.60 1188.28 L1319.10 1189.82 L1319.60 1191.19 L1320.10 1192.45 L1320.50 1193.40 L1320.60 1193.63 L1321.10 1194.76 L1321.60 1195.83 L1322.10 1196.84 L1322.60 1197.80 L1323.10 1198.71 L1323.60 1199.56 L1324.10 1200.37 L1324.60 1201.11 L1324.80 1201.40 L1325.10 1201.82 L1325.60 1202.50 L1326.10 1203.17 L1326.60 1203.81 L1327.10 1204.42 L1327.60 1205.01 L1328.10 1205.55 L1328.60 1206.06 L1329.10 1206.52 L1329.60 1206.94 L1330.10 1207.30 L1330.60 1207.63 L1331.10 1207.95 L1331.60 1208.25 L1332.10 1208.54 L1332.60 1208.82 L1333.10 1209.08 L1333.60 1209.34 L1334.10 1209.57 L1334.60 1209.80 L1335.10 1210.01 L1335.60 1210.21 L1336.10 1210.39 L1336.60 1210.57 L1337.10 1210.72 L1337.60 1210.87 L1338.10 1211.00 L1338.60 1211.12 L1339.10 1211.24 L1339.60 1211.36 L1340.10 1211.47 L1340.60 1211.57 L1341.10 1211.68 L1341.60 1211.77 L1342.10 1211.87 L1342.60 1211.96 L1343.10 1212.04 L1343.60 1212.12 L1344.10 1212.20 L1344.60 1212.27 L1345.10 1212.34 L1345.60 1212.40 L1346.10 1212.45 L1346.60 1212.51 L1347.10 1212.55 L1347.60 1212.59 L1347.70 1212.60 L1348.10 1212.63 L1348.60 1212.67 L1349.10 1212.70 L1349.60 1212.74 L1350.10 1212.77 L1350.60 1212.80 L1351.10 1212.84 L1351.60 1212.87 L1352.10 1212.90 L1352.60 1212.92 L1353.10 1212.95 L1353.60 1212.98 L1354.10 1213.00 L1354.60 1213.02 L1355.10 1213.04 L1355.60 1213.06 L1356.10 1213.07 L1356.60 1213.08 L1357.10 1213.09 L1357.60 1213.10 L1358.10 1213.10 L1358.40 1213.10 L1358.60 1213.10 L1359.10 1213.10 L1359.60 1213.10 L1360.10 1213.10 L1360.60 1213.10 L1361.10 1213.10 L1361.60 1213.10 L1362.10 1213.10 L1362.60 1213.10 L1363.10 1213.10 L1363.60 1213.10 L1364.10 1213.10 L1364.60 1213.10 L1365.10 1213.10 L1365.60 1213.10 L1366.10 1213.10 L1366.60 1213.10 L1367.10 1213.10 L1367.60 1213.10 L1368.10 1213.10 L1368.60 1213.10 L1369.10 1213.10 L1369.60 1213.10 L1370.10 1213.10 L1370.60 1213.10 L1371.10 1213.10 L1371.60 1213.10 L1372.10 1213.10 L1372.60 1213.10 L1373.10 1213.10 L1373.60 1213.10 L1374.10 1213.10 L1374.60 1213.10 L1375.10 1213.10 L1375.60 1213.10 L1376.10 1213.10 L1376.60 1213.10 L1377.10 1213.10 L1377.60 1213.10 L1378.10 1213.10 L1378.60 1213.10 L1379.10 1213.10 L1379.60 1213.10 L1380.10 1213.10 L1380.60 1213.10 L1381.10 1213.10 L1381.60 1213.10 L1382.10 1213.10 L1382.60 1213.10 L1383.10 1213.10 L1383.60 1213.10 L1384.10 1213.10 L1384.60 1213.10 L1385.00 1213.10 L1385.10 1213.10 L1385.60 1213.10 L1386.10 1213.10 L1386.60 1213.10 L1387.10 1213.10 L1387.60 1213.10 L1388.10 1213.10 L1388.60 1213.10 L1389.10 1213.10 L1389.60 1213.10 L1390.10 1213.10 L1390.60 1213.10 L1391.10 1213.10 L1391.60 1213.10 L1392.10 1213.10 L1392.60 1213.10 L1393.10 1213.10 L1393.60 1213.10 L1394.10 1213.10 L1394.60 1213.10 L1395.10 1213.10 L1395.60 1213.10 L1396.10 1213.10 L1396.60 1213.10 L1397.10 1213.10 L1397.60 1213.10 L1398.10 1213.10 L1398.60 1213.10 L1399.10 1213.10 L1399.60 1213.10 L1400.10 1213.10 L1400.60 1213.10 L1401.10 1213.10 L1401.60 1213.10 L1402.10 1213.10 L1402.60 1213.10 L1403.10 1213.10 L1403.60 1213.10 L1404.10 1213.10 L1404.60 1213.10 L1405.10 1213.10 L1405.60 1213.10 L1406.10 1213.10 L1406.60 1213.10 L1407.10 1213.10 L1407.60 1213.10 L1408.10 1213.10 L1408.60 1213.10 L1409.10 1213.10 L1409.60 1213.10 L1410.10 1213.10 L1410.60 1213.10 L1411.10 1213.10 L1411.60 1213.10 L1412.10 1213.10 L1412.60 1213.10 L1413.10 1213.10 L1413.60 1213.10 L1414.10 1213.10 L1414.60 1213.10 L1415.10 1213.10 L1415.60 1213.10 L1416.10 1213.10 L1416.60 1213.10 L1417.10 1213.10 L1417.60 1213.10 L1418.10 1213.10 L1418.60 1213.10 L1419.10 1213.10 L1419.60 1213.10 L1420.10 1213.10 L1420.60 1213.10 L1421.10 1213.10 L1421.60 1213.10 L1422.10 1213.10 L1422.60 1213.10 L1423.10 1213.09 L1423.60 1213.09 L1424.10 1213.09 L1424.60 1213.09 L1425.10 1213.09 L1425.60 1213.09 L1426.10 1213.09 L1426.60 1213.09 L1427.10 1213.09 L1427.60 1213.09 L1428.10 1213.09 L1428.60 1213.09 L1429.10 1213.09 L1429.60 1213.09 L1430.10 1213.09 L1438.10 1213.09 L1446.10 1213.09 L1454.10 1213.08 L1462.10 1213.08 L1470.10 1213.07 L1478.10 1213.07 L1486.10 1213.06 L1494.10 1213.06 L1502.10 1213.05 L1510.10 1213.05 L1518.10 1213.04 L1526.10 1213.03 L1534.10 1213.02 L1542.10 1213.02 L1550.10 1213.01 L1558.10 1213.00 L1566.10 1212.99 L1574.10 1212.98 L1582.10 1212.97 L1590.10 1212.96 L1598.10 1212.95 L1606.10 1212.94 L1614.10 1212.93 L1622.10 1212.91 L1630.10 1212.90 L1638.10 1212.89 L1646.10 1212.88 L1654.10 1212.86 L1662.10 1212.85 L1670.10 1212.83 L1678.10 1212.82 L1686.10 1212.81 L1694.10 1212.79 L1702.10 1212.78 L1710.10 1212.76 L1718.10 1212.74 L1726.10 1212.73 L1734.10 1212.71 L1742.10 1212.69 L1750.10 1212.68 L1758.10 1212.66 L1766.10 1212.64 L1774.10 1212.62 L1782.10 1212.60 L1790.10 1212.59 L1798.10 1212.57 L1806.10 1212.55 L1814.10 1212.53 L1822.10 1212.51 L1830.10 1212.49 L1838.10 1212.47 L1846.10 1212.45 L1854.10 1212.43 L1862.10 1212.40 L1870.10 1212.38 L1878.10 1212.36 L1886.10 1212.34 L1894.10 1212.32 L1900.00 1212.30 L1902.10 1212.29 L1910.10 1212.27 L1918.10 1212.24 L1926.10 1212.20 L1934.10 1212.16 L1942.10 1212.12 L1950.10 1212.08 L1958.10 1212.03 L1966.10 1211.98 L1974.10 1211.92 L1982.10 1211.87 L1990.10 1211.81 L1998.10 1211.74 L2006.10 1211.68 L2014.10 1211.62 L2022.10 1211.55 L2030.10 1211.48 L2038.10 1211.42 L2046.10 1211.35 L2054.10 1211.28 L2062.10 1211.21 L2070.10 1211.14 L2078.10 1211.08 L2086.10 1211.01 L2087.00 1211.00" fill="none" stroke="#8000ff" stroke-width="2.00" stroke-linejoin="round" stroke-linecap="round"/>
<path d="M158.10 1450.90 L159.10 1449.49 L160.10 1448.16 L161.10 1446.95 L161.50 1446.50 L162.10 1445.85 L163.10 1444.83 L164.10 1443.88 L165.10 1443.03 L165.40 1442.80 L166.10 1442.26 L167.10 1441.51 L168.10 1440.88 L169.00 1440.50 L169.10 1440.47 L170.10 1440.19 L171.10 1439.94 L172.10 1439.77 L173.10 1439.70 L173.20 1439.70 L174.10 1439.73 L175.10 1439.83 L176.10 1439.97 L177.10 1440.14 L178.10 1440.31 L179.10 1440.48 L180.10 1440.61 L181.10 1440.69 L181.70 1440.70 L182.10 1440.70 L183.10 1440.70 L184.10 1440.70 L185.10 1440.70 L186.10 1440.70 L187.10 1440.70 L188.10 1440.70 L189.10 1440.70 L190.10 1440.70 L191.10 1440.69 L192.10 1440.69 L193.10 1440.69 L194.10 1440.69 L195.10 1440.69 L196.10 1440.69 L197.10 1440.69 L198.10 1440.68 L199.10 1440.68 L200.10 1440.68 L208.10 1440.66 L216.10 1440.63 L224.10 1440.60 L232.10 1440.57 L240.10 1440.53 L248.10 1440.49 L256.10 1440.45 L264.10 1440.41 L272.10 1440.37 L280.10 1440.33 L288.10 1440.29 L296.10 1440.25 L304.10 1440.22 L310.00 1440.20 L312.10 1440.19 L320.10 1440.17 L328.10 1440.14 L336.10 1440.12 L344.10 1440.09 L352.10 1440.07 L360.10 1440.04 L368.10 1440.02 L376.10 1439.99 L384.10 1439.97 L392.10 1439.95 L400.10 1439.92 L408.10 1439.90 L416.10 1439.88 L424.10 1439.86 L432.10 1439.84 L440.10 1439.81 L448.10 1439.79 L456.10 1439.77 L464.10 1439.75 L472.10 1439.73 L480.10 1439.71 L488.10 1439.69 L496.10 1439.67 L504.10 1439.64 L512.10 1439.62 L520.10 1439.60 L528.10 1439.58 L536.10 1439.56 L544.10 1439.54 L552.10 1439.52 L560.10 1439.50 L568.10 1439.48 L576.10 1439.46 L584.10 1439.44 L592.10 1439.42 L600.00 1439.40 L600.10 1439.40 L608.10 1439.38 L616.10 1439.36 L624.10 1439.34 L632.10 1439.32 L640.10 1439.31 L648.10 1439.29 L656.10 1439.27 L664.10 1439.26 L672.10 1439.24 L680.10 1439.22 L688.10 1439.21 L696.10 1439.19 L704.10 1439.18 L712.10 1439.16 L720.10 1439.15 L728.10 1439.13 L736.10 1439.11 L744.10 1439.10 L752.10 1439.08 L760.10 1439.06 L768.10 1439.04 L776.10 1439.02 L784.10 1439.00 L792.10 1438.98 L800.10 1438.96 L808.10 1438.94 L816.10 1438.91 L824.10 1438.89 L832.10 1438.86 L840.10 1438.84 L848.10 1438.81 L850.00 1438.80 L856.10 1438.78 L864.10 1438.74 L872.10 1438.70 L880.10 1438.66 L888.10 1438.61 L896.10 1438.57 L904.10 1438.51 L912.10 1438.46 L920.10 1438.40 L928.10 1438.35 L936.10 1438.29 L944.10 1438.23 L952.10 1438.17 L960.10 1438.10 L968.10 1438.04 L973.60 1438.00 L976.10 1437.98 L984.10 1437.92 L992.10 1437.86 L1000.10 1437.80 L1008.10 1437.74 L1016.10 1437.67 L1024.10 1437.61 L1032.10 1437.54 L1040.10 1437.46 L1048.10 1437.38 L1056.10 1437.30 L1064.10 1437.21 L1072.10 1437.11 L1080.00 1437.00 L1080.10 1437.00 L1088.10 1436.87 L1096.10 1436.70 L1100.00 1436.60 L1104.10 1436.49 L1112.10 1436.22 L1120.00 1435.90 L1120.10 1435.90 L1128.10 1435.49 L1136.10 1434.98 L1140.00 1434.70 L1144.10 1434.37 L1144.60 1434.33 L1145.10 1434.28 L1145.60 1434.24 L1146.10 1434.20 L1146.60 1434.15 L1147.10 1434.10 L1147.60 1434.06 L1148.10 1434.01 L1148.60 1433.96 L1149.10 1433.91 L1149.60 1433.87 L1150.10 1433.82 L1150.60 1433.77 L1151.10 1433.72 L1151.60 1433.67 L1152.10 1433.62 L1152.60 1433.57 L1153.10 1433.52 L1153.60 1433.46 L1154.10 1433.41 L1154.60 1433.36 L1155.10 1433.31 L1155.60 1433.26 L1156.10 1433.21 L1156.60 1433.15 L1157.10 1433.10 L1157.60 1433.05 L1158.10 1433.00 L1158.60 1432.95 L1159.10 1432.89 L1159.60 1432.84 L1160.00 1432.80 L1160.10 1432.79 L1160.60 1432.74 L1161.10 1432.69 L1161.60 1432.64 L1162.10 1432.59 L1162.60 1432.54 L1163.10 1432.49 L1163.60 1432.44 L1164.10 1432.39 L1164.60 1432.34 L1165.10 1432.29 L1165.60 1432.24 L1166.10 1432.19 L1166.60 1432.14 L1167.10 1432.09 L1167.60 1432.04 L1168.10 1431.98 L1168.60 1431.93 L1169.10 1431.88 L1169.60 1431.83 L1170.10 1431.77 L1170.60 1431.72 L1171.10 1431.67 L1171.60 1431.61 L1172.10 1431.55 L1172.60 1431.50 L1173.10 1431.44 L1173.60 1431.38 L1174.10 1431.32 L1174.60 1431.26 L1175.10 1431.19 L1175.60 1431.13 L1176.10 1431.06 L1176.60 1431.00 L1177.10 1430.93 L1177.60 1430.86 L1178.10 1430.79 L1178.60 1430.71 L1179.10 1430.64 L1179.60 1430.56 L1180.00 1430.50 L1180.10 1430.48 L1180.60 1430.40 L1181.10 1430.32 L1181.60 1430.23 L1182.10 1430.13 L1182.60 1430.03 L1183.10 1429.93 L1183.60 1429.83 L1184.10 1429.72 L1184.60 1429.61 L1185.10 1429.49 L1185.60 1429.38 L1186.10 1429.26 L1186.60 1429.14 L1187.10 1429.01 L1187.60 1428.89 L1188.10 1428.76 L1188.60 1428.63 L1189.10 1428.50 L1189.60 1428.37 L1190.10 1428.24 L1190.60 1428.10 L1191.10 1427.97 L1191.60 1427.83 L1192.10 1427.69 L1192.60 1427.56 L1193.10 1427.42 L1193.60 1427.28 L1194.10 1427.15 L1194.60 1427.01 L1195.00 1426.90 L1195.10 1426.87 L1195.60 1426.73 L1196.10 1426.59 L1196.60 1426.45 L1197.10 1426.30 L1197.60 1426.15 L1198.10 1426.00 L1198.60 1425.85 L1199.10 1425.69 L1199.60 1425.53 L1200.10 1425.38 L1200.60 1425.22 L1201.10 1425.06 L1201.60 1424.90 L1201.90 1424.80 L1202.10 1424.74 L1202.60 1424.58 L1203.10 1424.41 L1203.60 1424.25 L1204.10 1424.09 L1204.60 1423.93 L1205.10 1423.76 L1205.60 1423.60 L1206.10 1423.43 L1206.60 1423.26 L1207.10 1423.09 L1207.60 1422.92 L1208.10 1422.74 L1208.60 1422.57 L1209.10 1422.39 L1209.60 1422.20 L1210.10 1422.01 L1210.40 1421.90 L1210.60 1421.82 L1211.10 1421.63 L1211.60 1421.43 L1212.10 1421.23 L1212.60 1421.02 L1213.10 1420.82 L1213.60 1420.61 L1214.10 1420.39 L1214.60 1420.17 L1215.10 1419.95 L1215.60 1419.73 L1216.10 1419.51 L1216.60 1419.28 L1217.10 1419.05 L1217.60 1418.82 L1218.10 1418.58 L1218.60 1418.34 L1218.90 1418.20 L1219.10 1418.10 L1219.60 1417.86 L1220.10 1417.61 L1220.60 1417.36 L1221.10 1417.10 L1221.60 1416.84 L1222.10 1416.58 L1222.60 1416.31 L1223.10 1416.05 L1223.60 1415.77 L1224.10 1415.50 L1224.60 1415.23 L1225.10 1414.95 L1225.60 1414.68 L1226.10 1414.40 L1226.60 1414.12 L1227.10 1413.84 L1227.60 1413.57 L1227.90 1413.40 L1228.10 1413.29 L1228.60 1413.01 L1229.10 1412.74 L1229.60 1412.46 L1230.10 1412.19 L1230.60 1411.91 L1231.10 1411.63 L1231.60 1411.35 L1232.10 1411.07 L1232.60 1410.79 L1233.10 1410.51 L1233.60 1410.23 L1234.10 1409.94 L1234.60 1409.65 L1235.10 1409.36 L1235.60 1409.07 L1236.10 1408.77 L1236.60 1408.47 L1237.10 1408.17 L1237.60 1407.86 L1238.10 1407.55 L1238.50 1407.30 L1238.60 1407.24 L1239.10 1406.92 L1239.60 1406.59 L1240.10 1406.27 L1240.60 1405.94 L1241.10 1405.60 L1241.60 1405.26 L1242.10 1404.92 L1242.60 1404.58 L1243.10 1404.23 L1243.60 1403.88 L1244.10 1403.52 L1244.60 1403.16 L1245.10 1402.80 L1245.60 1402.44 L1246.10 1402.08 L1246.60 1401.71 L1247.10 1401.34 L1247.60 1400.97 L1248.10 1400.60 L1248.60 1400.22 L1249.10 1399.84 L1249.60 1399.45 L1250.10 1399.06 L1250.60 1398.66 L1251.10 1398.26 L1251.60 1397.86 L1252.10 1397.46 L1252.60 1397.05 L1253.10 1396.64 L1253.60 1396.24 L1254.10 1395.83 L1254.60 1395.42 L1255.10 1395.02 L1255.60 1394.62 L1256.00 1394.30 L1256.10 1394.22 L1256.60 1393.82 L1257.10 1393.42 L1257.60 1393.02 L1258.10 1392.61 L1258.60 1392.21 L1259.10 1391.80 L1259.60 1391.40 L1260.10 1390.99 L1260.60 1390.59 L1261.10 1390.19 L1261.60 1389.79 L1262.10 1389.39 L1262.60 1389.00 L1263.10 1388.61 L1263.60 1388.23 L1264.10 1387.84 L1264.60 1387.47 L1265.10 1387.10 L1265.60 1386.73 L1266.10 1386.37 L1266.60 1386.01 L1267.10 1385.66 L1267.60 1385.31 L1268.10 1384.96 L1268.60 1384.62 L1269.10 1384.28 L1269.60 1383.94 L1270.10 1383.61 L1270.60 1383.29 L1270.90 1383.10 L1271.10 1382.98 L1271.60 1382.68 L1272.10 1382.40 L1272.60 1382.13 L1273.10 1381.87 L1273.60 1381.61 L1274.10 1381.35 L1274.60 1381.08 L1275.10 1380.79 L1275.60 1380.48 L1276.10 1380.15 L1276.60 1379.78 L1276.70 1379.70 L1277.10 1379.36 L1277.60 1378.87 L1278.10 1378.33 L1278.60 1377.75 L1279.10 1377.16 L1279.60 1376.56 L1279.90 1376.20 L1280.10 1375.96 L1280.60 1375.32 L1281.10 1374.63 L1281.60 1373.94 L1282.10 1373.25 L1282.60 1372.60 L1283.10 1372.01 L1283.60 1371.50 L1284.10 1371.06 L1284.60 1370.64 L1285.10 1370.25 L1285.60 1369.88 L1286.10 1369.54 L1286.60 1369.22 L1287.10 1368.92 L1287.60 1368.65 L1287.90 1368.50 L1288.10 1368.40 L1288.60 1368.18 L1289.10 1367.97 L1289.60 1367.78 L1290.10 1367.59 L1290.60 1367.42 L1291.10 1367.25 L1291.60 1367.08 L1292.10 1366.91 L1292.60 1366.74 L1292.70 1366.70 L1293.10 1366.57 L1293.60 1366.42 L1294.10 1366.28 L1294.60 1366.14 L1295.10 1365.99 L1295.60 1365.80 L1296.10 1365.57 L1296.40 1365.40 L1296.60 1365.26 L1297.10 1364.75 L1297.60 1364.03 L1298.10 1363.17 L1298.50 1362.40 L1298.60 1362.19 L1299.10 1360.86 L1299.60 1359.21 L1299.80 1358.50 L1300.10 1357.42 L1300.60 1355.49 L1301.10 1353.32 L1301.60 1350.82 L1302.00 1348.50 L1302.10 1347.85 L1302.60 1343.72 L1303.10 1338.61 L1303.60 1333.12 L1304.10 1327.89 L1304.30 1326.00 L1304.60 1323.34 L1305.10 1319.06 L1305.60 1314.93 L1306.10 1310.86 L1306.60 1306.80 L1307.00 1303.50 L1307.10 1302.67 L1307.60 1298.57 L1308.10 1294.52 L1308.60 1290.43 L1309.10 1286.25 L1309.60 1281.90 L1309.70 1281.00 L1310.10 1277.31 L1310.60 1272.50 L1311.10 1267.54 L1311.60 1262.52 L1312.00 1258.50 L1312.10 1257.50 L1312.60 1252.40 L1313.10 1247.22 L1313.60 1242.06 L1314.10 1236.99 L1314.20 1236.00 L1314.60 1232.04 L1315.10 1227.18 L1315.60 1222.50 L1316.10 1217.25 L1316.60 1212.58 L1316.90 1211.30 L1317.10 1211.03 L1317.60 1210.47 L1318.10 1210.06 L1318.60 1209.81 L1319.10 1209.70 L1319.20 1209.70 L1319.60 1211.93 L1320.10 1218.00 L1320.60 1226.91 L1321.10 1238.46 L1321.40 1245.00 L1321.60 1248.95 L1322.10 1258.50 L1322.60 1268.05 L1322.80 1272.00 L1323.10 1278.27 L1323.60 1289.13 L1324.10 1299.00 L1324.60 1307.22 L1325.10 1314.62 L1325.60 1321.70 L1325.90 1326.00 L1326.10 1328.89 L1326.60 1335.96 L1327.10 1342.95 L1327.60 1350.00 L1328.10 1357.61 L1328.60 1365.03 L1328.90 1368.70 L1329.10 1370.76 L1329.60 1375.30 L1330.10 1379.21 L1330.50 1382.10 L1330.60 1382.80 L1331.10 1386.20 L1331.60 1389.37 L1332.10 1392.28 L1332.60 1394.91 L1332.70 1395.40 L1333.10 1397.25 L1333.60 1399.36 L1334.10 1401.31 L1334.60 1403.17 L1335.10 1405.00 L1335.40 1406.10 L1335.60 1406.85 L1336.10 1408.78 L1336.60 1410.69 L1337.10 1412.50 L1337.60 1414.11 L1338.00 1415.20 L1338.10 1415.44 L1338.60 1416.58 L1339.10 1417.62 L1339.60 1418.58 L1340.10 1419.46 L1340.60 1420.28 L1341.10 1421.06 L1341.60 1421.81 L1341.80 1422.10 L1342.10 1422.54 L1342.60 1423.26 L1343.10 1423.97 L1343.60 1424.66 L1344.10 1425.32 L1344.60 1425.95 L1345.10 1426.55 L1345.60 1427.11 L1346.10 1427.63 L1346.60 1428.09 L1347.10 1428.50 L1347.60 1428.88 L1348.10 1429.24 L1348.60 1429.59 L1349.10 1429.92 L1349.60 1430.24 L1350.10 1430.55 L1350.60 1430.83 L1351.10 1431.10 L1351.60 1431.35 L1352.10 1431.58 L1352.60 1431.80 L1353.10 1431.99 L1353.60 1432.15 L1354.10 1432.30 L1354.60 1432.43 L1355.10 1432.56 L1355.60 1432.68 L1356.10 1432.80 L1356.60 1432.91 L1357.10 1433.02 L1357.60 1433.12 L1358.10 1433.22 L1358.60 1433.31 L1359.10 1433.40 L1359.60 1433.48 L1360.10 1433.56 L1360.60 1433.64 L1361.10 1433.71 L1361.60 1433.78 L1362.10 1433.84 L1362.60 1433.90 L1363.10 1433.95 L1363.60 1434.00 L1364.10 1434.05 L1364.60 1434.09 L1364.70 1434.10 L1365.10 1434.13 L1365.60 1434.17 L1366.10 1434.21 L1366.60 1434.24 L1367.10 1434.28 L1367.60 1434.31 L1368.10 1434.35 L1368.60 1434.38 L1369.10 1434.41 L1369.60 1434.44 L1370.10 1434.47 L1370.60 1434.50 L1371.10 1434.53 L1371.60 1434.55 L1372.10 1434.58 L1372.60 1434.60 L1373.10 1434.63 L1373.60 1434.65 L1374.10 1434.67 L1374.60 1434.69 L1375.10 1434.71 L1375.60 1434.73 L1376.10 1434.75 L1376.60 1434.77 L1377.10 1434.79 L1377.60 1434.81 L1378.10 1434.82 L1378.60 1434.84 L1379.10 1434.85 L1379.60 1434.87 L1380.10 1434.88 L1380.60 1434.89 L1380.80 1434.90 L1381.10 1434.91 L1381.60 1434.92 L1382.10 1434.93 L1382.60 1434.95 L1383.10 1434.96 L1383.60 1434.97 L1384.10 1434.98 L1384.60 1435.00 L1385.10 1435.01 L1385.60 1435.02 L1386.10 1435.03 L1386.60 1435.04 L1387.10 1435.06 L1387.60 1435.07 L1388.10 1435.08 L1388.60 1435.09 L1389.10 1435.10 L1389.60 1435.11 L1390.10 1435.12 L1390.60 1435.14 L1391.10 1435.15 L1391.60 1435.16 L1392.10 1435.17 L1392.60 1435.18 L1393.10 1435.19 L1393.60 1435.20 L1394.10 1435.21 L1394.60 1435.22 L1395.10 1435.23 L1395.60 1435.24 L1396.10 1435.24 L1396.60 1435.25 L1397.10 1435.26 L1397.60 1435.27 L1398.10 1435.28 L1398.60 1435.29 L1399.10 1435.29 L1399.60 1435.30 L1400.10 1435.31 L1400.60 1435.32 L1401.10 1435.32 L1401.60 1435.33 L1402.10 1435.34 L1402.60 1435.34 L1403.10 1435.35 L1403.60 1435.35 L1404.10 1435.36 L1404.60 1435.36 L1405.10 1435.37 L1405.60 1435.37 L1406.10 1435.38 L1406.60 1435.38 L1407.10 1435.38 L1407.60 1435.39 L1408.10 1435.39 L1408.60 1435.39 L1409.10 1435.39 L1409.60 1435.40 L1410.10 1435.40 L1410.60 1435.40 L1411.10 1435.40 L1411.60 1435.40 L1412.00 1435.40 L1412.10 1435.40 L1412.60 1435.40 L1413.10 1435.40 L1413.60 1435.40 L1414.10 1435.40 L1414.60 1435.40 L1415.10 1435.40 L1415.60 1435.40 L1416.10 1435.40 L1416.60 1435.40 L1417.10 1435.40 L1417.60 1435.40 L1418.10 1435.40 L1418.60 1435.40 L1419.10 1435.40 L1419.60 1435.40 L1420.10 1435.40 L1420.60 1435.40 L1421.10 1435.40 L1421.60 1435.40 L1422.10 1435.40 L1422.60 1435.40 L1423.10 1435.40 L1423.60 1435.40 L1424.10 1435.40 L1424.60 1435.40 L1425.10 1435.40 L1425.60 1435.40 L1426.10 1435.40 L1426.60 1435.40 L1427.10 1435.40 L1427.60 1435.40 L1428.10 1435.40 L1428.60 1435.40 L1429.10 1435.40 L1429.60 1435.40 L1430.10 1435.40 L1438.10 1435.40 L1446.10 1435.40 L1454.10 1435.40 L1462.10 1435.40 L1470.10 1435.40 L1478.10 1435.40 L1486.10 1435.40 L1494.10 1435.39 L1502.10 1435.39 L1510.10 1435.39 L1518.10 1435.39 L1526.10 1435.39 L1534.10 1435.38 L1542.10 1435.38 L1550.10 1435.38 L1558.10 1435.37 L1566.10 1435.37 L1574.10 1435.36 L1582.10 1435.36 L1590.10 1435.35 L1598.10 1435.34 L1606.10 1435.33 L1614.10 1435.32 L1622.10 1435.32 L1630.10 1435.31 L1638.10 1435.29 L1646.10 1435.28 L1654.10 1435.27 L1662.10 1435.26 L1670.10 1435.24 L1678.10 1435.23 L1686.10 1435.21 L1694.10 1435.20 L1702.10 1435.18 L1710.10 1435.16 L1718.10 1435.14 L1726.10 1435.12 L1734.10 1435.10 L1742.10 1435.07 L1750.10 1435.05 L1758.10 1435.02 L1766.10 1435.00 L1774.10 1434.97 L1782.10 1434.94 L1790.10 1434.91 L1798.10 1434.88 L1806.10 1434.84 L1814.10 1434.81 L1822.10 1434.77 L1830.10 1434.73 L1838.10 1434.70 L1846.10 1434.66 L1854.10 1434.61 L1862.10 1434.57 L1870.10 1434.52 L1878.10 1434.48 L1886.10 1434.43 L1894.10 1434.38 L1902.10 1434.33 L1910.10 1434.27 L1918.10 1434.22 L1926.10 1434.16 L1934.10 1434.10 L1942.10 1434.04 L1950.10 1433.98 L1958.10 1433.92 L1966.10 1433.85 L1974.10 1433.78 L1982.10 1433.71 L1990.10 1433.64 L1998.10 1433.57 L2006.10 1433.49 L2014.10 1433.41 L2022.10 1433.33 L2030.10 1433.25 L2038.10 1433.17 L2046.10 1433.08 L2054.10 1432.99 L2062.10 1432.90 L2070.10 1432.81 L2078.10 1432.71 L2086.10 1432.61 L2087.00 1432.60" fill="none" stroke="#800080" stroke-width="2.00" stroke-linejoin="round" stroke-linecap="round"/>
<text class="serif" transform="translate(358.20 1673.30) scale(1 1.040)" font-size="66.00" text-anchor="middle">40</text>
<text class="serif" transform="translate(624.86 1673.30) scale(1 1.040)" font-size="66.00" text-anchor="middle">60</text>
<text class="serif" transform="translate(891.52 1673.30) scale(1 1.040)" font-size="66.00" text-anchor="middle">80</text>
<text class="serif" transform="translate(1158.18 1673.30) scale(1 1.040)" font-size="66.00" text-anchor="middle">100</text>
<text class="serif" transform="translate(1424.84 1673.30) scale(1 1.040)" font-size="66.00" text-anchor="middle">120</text>
<text class="serif" transform="translate(1691.50 1673.30) scale(1 1.040)" font-size="66.00" text-anchor="middle">140</text>
<text class="serif" transform="translate(1958.16 1673.30) scale(1 1.040)" font-size="66.00" text-anchor="middle">160</text>
<text class="sans" transform="translate(197.20 254.50) scale(1 1.065)" font-size="66.00" fill="#000000">G10</text>
<text class="sans" transform="translate(198.70 409.90) scale(1 1.065)" font-size="66.00" fill="#ff0000">G20</text>
<text class="sans" transform="translate(185.50 554.90) scale(1 1.065)" font-size="66.00" fill="#0000ff">G30</text>
<text class="sans" transform="translate(180.80 735.90) scale(1 1.065)" font-size="66.00" fill="#ff00ff">G40</text>
<text class="sans" transform="translate(172.90 882.50) scale(1 1.065)" font-size="66.00" fill="#008000">G50</text>
<text class="sans" transform="translate(175.80 1059.80) scale(1 1.065)" font-size="66.00" fill="#000080">G60</text>
<text class="sans" transform="translate(178.90 1185.80) scale(1 1.065)" font-size="66.00" fill="#8000ff">G90</text>
<text class="sans" transform="translate(170.70 1410.50) scale(1 1.065)" font-size="66.00" fill="#800080">G180</text>
<text class="serif" x="921.00" y="1781.00" font-size="59.00">Temperature (<tspan>º</tspan>C)</text>
<text class="serif" transform="translate(71.6 1099) rotate(-90)" font-size="59.00">Heat flow (u.a.)</text>
<text class="serif" transform="translate(68.7 487) rotate(-90)" font-size="59.00">Endo</text>
<path d="M54 343.4 V268" stroke="#000" stroke-width="2.2" fill="none"/>
<path d="M54 231.7 L43.5 271.7 L64.5 271.7 Z" fill="#000"/>
</svg></body></html>
